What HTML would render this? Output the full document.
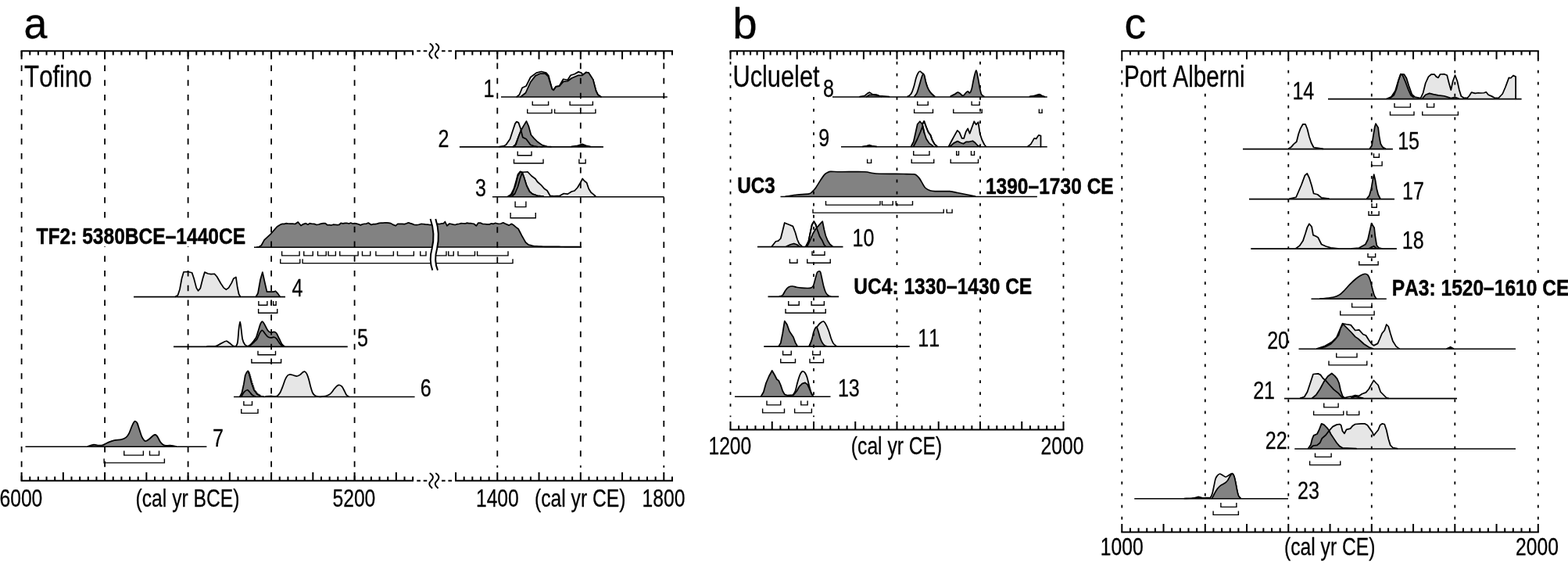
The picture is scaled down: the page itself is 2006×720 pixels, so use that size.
<!DOCTYPE html>
<html lang="en"><head><meta charset="utf-8"><title>Calibrated age models: Tofino, Ucluelet, Port Alberni</title>
<style>html,body{margin:0;padding:0;background:#fff}body{width:2006px;height:720px;overflow:hidden}svg{display:block}text{font-family:"Liberation Sans",Arial,Helvetica,sans-serif;fill:#000;font-kerning:none}</style>
</head><body>
<svg width="2006" height="720" viewBox="0 0 2006 720">
<rect width="2006" height="720" fill="#fff"/>
<g id="distributions">
<path d="M661.25 123.75 L664.38 121.25 L668.12 112.25 L673.12 110 L678.75 98.75 L686.25 93.12 L692.5 91.5 L698.75 93.12 L701.88 96.88 L706.25 113.75 L708.12 115 L711.25 110.62 L715.62 109.75 L720.62 101.25 L726.25 102.25 L730 96.25 L735 94.75 L740 91.88 L743.75 93.12 L745.62 95.62 L750 92.5 L753.12 93.12 L758.75 101.88 L762.5 116.25 L765 121.25 L768.75 123.75L768.75 124L661.25 124Z" fill="#e6e6e6" stroke="none"/>
<path d="M661.25 123.75 L664.38 121.25 L668.12 112.25 L673.12 110 L678.75 98.75 L686.25 93.12 L692.5 91.5 L698.75 93.12 L701.88 96.88 L706.25 113.75 L708.12 115 L711.25 110.62 L715.62 109.75 L720.62 101.25 L726.25 102.25 L730 96.25 L735 94.75 L740 91.88 L743.75 93.12 L745.62 95.62 L750 92.5 L753.12 93.12 L758.75 101.88 L762.5 116.25 L765 121.25 L768.75 123.75" fill="none" stroke="#000" stroke-width="1.75" stroke-linejoin="round" stroke-linecap="round"/>
<path d="M666.25 123.75 L672.5 118.75 L678.75 105 L685 96.88 L691.25 94 L697.5 94 L701.25 97.5 L706.25 113.75 L708.12 115.38 L711.25 111 L715.62 110.25 L720.62 104.38 L726.25 103.75 L731.25 100 L740 96.25 L745 96.25 L750 92.5 L753.12 93.12 L758.75 101.88 L762.5 116.25 L765 121.25 L768.75 123.75L768.75 124L666.25 124Z" fill="#828282" stroke="none"/>
<path d="M666.25 123.75 L672.5 118.75 L678.75 105 L685 96.88 L691.25 94 L697.5 94 L701.25 97.5 L706.25 113.75 L708.12 115.38 L711.25 111 L715.62 110.25 L720.62 104.38 L726.25 103.75 L731.25 100 L740 96.25 L745 96.25 L750 92.5 L753.12 93.12 L758.75 101.88 L762.5 116.25 L765 121.25 L768.75 123.75" fill="none" stroke="#000" stroke-width="1.75" stroke-linejoin="round" stroke-linecap="round"/>
<path d="M638.75 187.62 L645 186.62 L647.5 185 L652.5 177.75 L656.25 166.25 L659 158.12 L660.88 155.62 L663.38 156.88 L666.25 165 L668.75 175.62 L673.12 177.75 L678.75 185.25 L683.12 186.5 L693.75 187.62L693.75 187.88L638.75 187.88Z" fill="#e6e6e6" stroke="none"/>
<path d="M638.75 187.62 L645 186.62 L647.5 185 L652.5 177.75 L656.25 166.25 L659 158.12 L660.88 155.62 L663.38 156.88 L666.25 165 L668.75 175.62 L673.12 177.75 L678.75 185.25 L683.12 186.5 L693.75 187.62" fill="none" stroke="#000" stroke-width="1.75" stroke-linejoin="round" stroke-linecap="round"/>
<path d="M656.25 187.62 L659.38 185 L663.75 173.75 L666.88 166.25 L670 160.62 L673.5 155 L676.25 161.25 L679.38 172.5 L683.12 176.88 L687.5 181.25 L693.75 185.62 L700 187.25 L705 187.62L705 187.88L656.25 187.88Z" fill="#828282" stroke="none"/>
<path d="M656.25 187.62 L659.38 185 L663.75 173.75 L666.88 166.25 L670 160.62 L673.5 155 L676.25 161.25 L679.38 172.5 L683.12 176.88 L687.5 181.25 L693.75 185.62 L700 187.25 L705 187.62" fill="none" stroke="#000" stroke-width="1.75" stroke-linejoin="round" stroke-linecap="round"/>
<path d="M657.5 187.62 L660 185 L663.75 173.75 L666.5 166.5 L668.75 175.62 L673.12 177.75 L678.75 185.25 L683.12 186.75 L687.5 187.62L687.5 187.88L657.5 187.88Z" fill="#828282" stroke="none"/>
<path d="M657.5 187.62 L660 185 L663.75 173.75 L666.5 166.5 L668.75 175.62 L673.12 177.75 L678.75 185.25 L683.12 186.75 L687.5 187.62" fill="none" stroke="#000" stroke-width="1.75" stroke-linejoin="round" stroke-linecap="round"/>
<path d="M731.25 187.38 L738.75 186.25 L745 184.38 L750 186.25 L755 187.38L755 187.88L731.25 187.88Z" fill="#111" stroke="none"/>
<path d="M731.25 187.38 L738.75 186.25 L745 184.38 L750 186.25 L755 187.38" fill="none" stroke="#000" stroke-width="1.75" stroke-linejoin="round" stroke-linecap="round"/>
<path d="M650 251 L653.75 248.75 L657.5 241.25 L660 232.5 L662.5 223.12 L665.62 219.38 L668.12 220.25 L675 219.75 L680 225 L685 228.75 L687.5 232.5 L692.5 236.88 L696.25 241.25 L700 243.75 L703.75 250.25 L708.75 250.75 L716.25 250.25 L721.25 247.5 L726.25 248.12 L731.25 245 L735 244 L738.75 240 L742.5 233.75 L745.25 228.5 L747.5 231.25 L750.62 233.75 L753.12 241.25 L756.25 246.25 L758.75 248.12 L761.88 251L761.88 251.75L650 251.75Z" fill="#e6e6e6" stroke="none"/>
<path d="M650 251 L653.75 248.75 L657.5 241.25 L660 232.5 L662.5 223.12 L665.62 219.38 L668.12 220.25 L675 219.75 L680 225 L685 228.75 L687.5 232.5 L692.5 236.88 L696.25 241.25 L700 243.75 L703.75 250.25 L708.75 250.75 L716.25 250.25 L721.25 247.5 L726.25 248.12 L731.25 245 L735 244 L738.75 240 L742.5 233.75 L745.25 228.5 L747.5 231.25 L750.62 233.75 L753.12 241.25 L756.25 246.25 L758.75 248.12 L761.88 251" fill="none" stroke="#000" stroke-width="1.75" stroke-linejoin="round" stroke-linecap="round"/>
<path d="M651.88 251 L655.62 247.5 L659.38 237.5 L662.5 225 L665.62 219.75 L668.12 220.62 L670.62 227.5 L673.75 237.5 L677.5 245 L681.25 248.12 L687.5 250.25 L695 251L695 251.75L651.88 251.75Z" fill="#828282" stroke="none"/>
<path d="M651.88 251 L655.62 247.5 L659.38 237.5 L662.5 225 L665.62 219.75 L668.12 220.62 L670.62 227.5 L673.75 237.5 L677.5 245 L681.25 248.12 L687.5 250.25 L695 251" fill="none" stroke="#000" stroke-width="1.75" stroke-linejoin="round" stroke-linecap="round"/>
<path d="M655 251 L658.75 247.5 L662.5 238.75 L665.62 227.5 L668.12 220.62 L670.62 227.5 L673.75 237.5 L677.5 245 L681.25 248.12 L687.5 250.25 L695 251L695 251.75L655 251.75Z" fill="#828282" stroke="none"/>
<path d="M655 251 L658.75 247.5 L662.5 238.75 L665.62 227.5 L668.12 220.62 L670.62 227.5 L673.75 237.5 L677.5 245 L681.25 248.12 L687.5 250.25 L695 251" fill="none" stroke="#000" stroke-width="1.75" stroke-linejoin="round" stroke-linecap="round"/>
<path d="M328.75 316 L331.25 315.75 L334.38 313.75 L338.12 306.88 L340.83 304.38 L343.54 301.88 L346.25 299.38 L348.96 296.25 L351.67 293.12 L354.38 290 L356.67 288.56 L358.96 287.12 L361.25 286.25 L363.75 286.33 L366.25 285.61 L368.75 286 L371.67 286.21 L374.58 286.19 L377.5 286.5 L381.25 284 L385 288.5 L388.12 286.58 L391.25 285.62 L393.75 287.25 L396.25 285.62 L399.17 286.26 L402.08 286.37 L405 287.5 L407.81 286.96 L410.62 286.09 L413.44 285.64 L416.25 285.62 L418.75 287.75 L421.25 287.63 L423.75 288.03 L426.25 287.21 L428.75 287.28 L431.25 287.68 L433.75 287.5 L436.25 285.25 L438.75 285.8 L441.25 285.44 L443.75 285.3 L446.25 285.99 L448.75 285.02 L451.25 285.97 L453.75 285.62 L456.25 286.14 L458.75 286.73 L461.25 287.88 L463.75 286.74 L466.25 286.23 L468.75 286.07 L471.25 285 L475 287.5 L477.5 286.65 L480 286.59 L482.5 286.15 L485 285.36 L487.5 285 L490 285.18 L492.5 284.77 L495 284.89 L497.5 285.18 L500 285.62 L503.12 287.39 L506.25 288.75 L508.75 286.25 L511.67 286.3 L514.58 286.3 L517.5 286.62 L520 285.78 L522.5 284.75 L525 285.62 L527.5 286.36 L530 287.5 L532.81 287.57 L535.62 287.22 L538.44 286.47 L541.25 286.5 L544.17 286.92 L547.08 287.19 L550 287.5 L553.12 287.79 L556.25 287.25L556.25 316.25L328.75 316.25Z" fill="#828282" stroke="none"/>
<path d="M328.75 316 L331.25 315.75 L334.38 313.75 L338.12 306.88 L340.83 304.38 L343.54 301.88 L346.25 299.38 L348.96 296.25 L351.67 293.12 L354.38 290 L356.67 288.56 L358.96 287.12 L361.25 286.25 L363.75 286.33 L366.25 285.61 L368.75 286 L371.67 286.21 L374.58 286.19 L377.5 286.5 L381.25 284 L385 288.5 L388.12 286.58 L391.25 285.62 L393.75 287.25 L396.25 285.62 L399.17 286.26 L402.08 286.37 L405 287.5 L407.81 286.96 L410.62 286.09 L413.44 285.64 L416.25 285.62 L418.75 287.75 L421.25 287.63 L423.75 288.03 L426.25 287.21 L428.75 287.28 L431.25 287.68 L433.75 287.5 L436.25 285.25 L438.75 285.8 L441.25 285.44 L443.75 285.3 L446.25 285.99 L448.75 285.02 L451.25 285.97 L453.75 285.62 L456.25 286.14 L458.75 286.73 L461.25 287.88 L463.75 286.74 L466.25 286.23 L468.75 286.07 L471.25 285 L475 287.5 L477.5 286.65 L480 286.59 L482.5 286.15 L485 285.36 L487.5 285 L490 285.18 L492.5 284.77 L495 284.89 L497.5 285.18 L500 285.62 L503.12 287.39 L506.25 288.75 L508.75 286.25 L511.67 286.3 L514.58 286.3 L517.5 286.62 L520 285.78 L522.5 284.75 L525 285.62 L527.5 286.36 L530 287.5 L532.81 287.57 L535.62 287.22 L538.44 286.47 L541.25 286.5 L544.17 286.92 L547.08 287.19 L550 287.5 L553.12 287.79 L556.25 287.25" fill="none" stroke="#000" stroke-width="1.7" stroke-linejoin="round" stroke-linecap="round"/>
<path d="M551.25 287.5 L554.17 287.03 L557.08 286.73 L560 286.25 L562.5 286.51 L565 285.8 L567.5 285.62 L569.38 283.5 L571.88 288.75 L575 286 L577.5 286.51 L580 287.1 L582.5 287.5 L585 286.53 L587.5 286.26 L590 285.62 L592.5 285.77 L595 285.95 L597.5 285.18 L600 285.62 L603.12 285.72 L606.25 286.25 L609.38 288.75 L611.88 285 L614.58 285.05 L617.29 286.34 L620 286.5 L623.12 286.9 L626.25 286.88 L628.75 285.83 L631.25 286.32 L633.75 285.25 L637.5 286.25 L640.62 286.01 L643.75 284.75 L646.25 286.04 L648.75 287.13 L651.25 288.12 L654.38 286.25 L657.29 288.04 L660.21 290.58 L663.12 292.75 L665.31 297 L667.5 301.25 L670 305.62 L672.5 310 L676.25 313.12 L678.75 313.67 L681.25 314.21 L683.75 314.75 L686.56 314.88 L689.38 315 L692.19 315.12 L695 315.25 L697.53 315.28 L700.07 315.3 L702.6 315.33 L705.13 315.36 L707.66 315.38 L710.2 315.41 L712.73 315.43 L715.26 315.46 L717.8 315.49 L720.33 315.51 L722.86 315.54 L725.39 315.57 L727.93 315.59 L730.46 315.62 L732.99 315.64 L735.53 315.67 L738.06 315.7 L740.59 315.72 L743.12 315.75L743.12 316L551.25 316Z" fill="#828282" stroke="none"/>
<path d="M551.25 287.5 L554.17 287.03 L557.08 286.73 L560 286.25 L562.5 286.51 L565 285.8 L567.5 285.62 L569.38 283.5 L571.88 288.75 L575 286 L577.5 286.51 L580 287.1 L582.5 287.5 L585 286.53 L587.5 286.26 L590 285.62 L592.5 285.77 L595 285.95 L597.5 285.18 L600 285.62 L603.12 285.72 L606.25 286.25 L609.38 288.75 L611.88 285 L614.58 285.05 L617.29 286.34 L620 286.5 L623.12 286.9 L626.25 286.88 L628.75 285.83 L631.25 286.32 L633.75 285.25 L637.5 286.25 L640.62 286.01 L643.75 284.75 L646.25 286.04 L648.75 287.13 L651.25 288.12 L654.38 286.25 L657.29 288.04 L660.21 290.58 L663.12 292.75 L665.31 297 L667.5 301.25 L670 305.62 L672.5 310 L676.25 313.12 L678.75 313.67 L681.25 314.21 L683.75 314.75 L686.56 314.88 L689.38 315 L692.19 315.12 L695 315.25 L697.53 315.28 L700.07 315.3 L702.6 315.33 L705.13 315.36 L707.66 315.38 L710.2 315.41 L712.73 315.43 L715.26 315.46 L717.8 315.49 L720.33 315.51 L722.86 315.54 L725.39 315.57 L727.93 315.59 L730.46 315.62 L732.99 315.64 L735.53 315.67 L738.06 315.7 L740.59 315.72 L743.12 315.75" fill="none" stroke="#000" stroke-width="1.7" stroke-linejoin="round" stroke-linecap="round"/>
<path d="M224.38 379.38 L227.5 377.5 L230 370 L232.5 356.25 L235 347.75 L240 347.5 L245.62 348.75 L248.12 356.25 L251.25 368.12 L253.5 371.88 L256.25 368.75 L259.38 356.25 L261.88 348.12 L266.25 350 L270 350.62 L274.38 350.25 L277.5 353.75 L282.5 362.5 L286.25 368.12 L289.38 370.25 L292.5 368.12 L296.25 361.88 L298.75 356.25 L301.88 354.38 L303.75 367.5 L305.62 376.25 L307.5 379.38L307.5 379.62L224.38 379.62Z" fill="#e6e6e6" stroke="none"/>
<path d="M224.38 379.38 L227.5 377.5 L230 370 L232.5 356.25 L235 347.75 L240 347.5 L245.62 348.75 L248.12 356.25 L251.25 368.12 L253.5 371.88 L256.25 368.75 L259.38 356.25 L261.88 348.12 L266.25 350 L270 350.62 L274.38 350.25 L277.5 353.75 L282.5 362.5 L286.25 368.12 L289.38 370.25 L292.5 368.12 L296.25 361.88 L298.75 356.25 L301.88 354.38 L303.75 367.5 L305.62 376.25 L307.5 379.38" fill="none" stroke="#000" stroke-width="1.75" stroke-linejoin="round" stroke-linecap="round"/>
<path d="M327.5 379.38 L330 375 L333.12 357.5 L335.88 348.12 L338.75 361.25 L341.5 373.12 L350 373.12 L352.5 372.25 L355.62 375.62 L358.12 379.38L358.12 379.62L327.5 379.62Z" fill="#828282" stroke="none"/>
<path d="M327.5 379.38 L330 375 L333.12 357.5 L335.88 348.12 L338.75 361.25 L341.5 373.12 L350 373.12 L352.5 372.25 L355.62 375.62 L358.12 379.38" fill="none" stroke="#000" stroke-width="1.75" stroke-linejoin="round" stroke-linecap="round"/>
<path d="M265 443C266.59 442.93 273.77 443.01 276.25 442.5C278.73 441.99 280.64 440.26 282.5 439.38C284.36 438.49 287.78 436.34 289.38 436.25C290.97 436.16 292.51 437.9 293.75 438.75C294.99 439.6 296.97 441.68 298.12 442.25C299.28 442.82 301.04 443.42 301.88 442.75C302.71 442.08 303.47 440.72 304 437.5C304.53 434.28 305.18 423.72 305.62 420C306.07 416.28 306.72 411.25 307.12 411.25C307.53 411.25 308.06 416.81 308.5 420C308.94 423.19 309.59 430.83 310.25 433.75C310.91 436.67 312.27 439.39 313.12 440.62C313.98 441.86 315.36 442.32 316.25 442.5C317.14 442.68 318.31 442.58 319.38 441.88C320.44 441.17 322.6 438.83 323.75 437.5C324.9 436.17 326.97 433.21 327.5 432.5L327.5 443.38L265 443.38Z" fill="#e6e6e6" stroke="none"/>
<path d="M265 443C266.59 442.93 273.77 443.01 276.25 442.5C278.73 441.99 280.64 440.26 282.5 439.38C284.36 438.49 287.78 436.34 289.38 436.25C290.97 436.16 292.51 437.9 293.75 438.75C294.99 439.6 296.97 441.68 298.12 442.25C299.28 442.82 301.04 443.42 301.88 442.75C302.71 442.08 303.47 440.72 304 437.5C304.53 434.28 305.18 423.72 305.62 420C306.07 416.28 306.72 411.25 307.12 411.25C307.53 411.25 308.06 416.81 308.5 420C308.94 423.19 309.59 430.83 310.25 433.75C310.91 436.67 312.27 439.39 313.12 440.62C313.98 441.86 315.36 442.32 316.25 442.5C317.14 442.68 318.31 442.58 319.38 441.88C320.44 441.17 322.6 438.83 323.75 437.5C324.9 436.17 326.97 433.21 327.5 432.5" fill="none" stroke="#000" stroke-width="1.75" stroke-linejoin="round" stroke-linecap="round"/>
<path d="M316.88 442.88C317.14 442.79 317.95 442.83 318.75 442.25C319.55 441.67 321.26 440.22 322.5 438.75C323.74 437.28 326.44 433.91 327.5 431.88C328.56 429.84 329.2 426.85 330 424.38C330.8 421.9 332.33 416.27 333.12 414.38C333.92 412.48 334.92 411 335.62 411C336.33 411 337.15 412.75 338.12 414.38C339.1 416 341.35 420.96 342.5 422.5C343.65 424.04 345.1 424.98 346.25 425.25C347.4 425.52 349.56 424.23 350.62 424.38C351.69 424.52 352.78 424.92 353.75 426.25C354.72 427.58 356.53 431.8 357.5 433.75C358.47 435.7 359.74 438.71 360.62 440C361.51 441.29 363.31 442.47 363.75 442.88L363.75 443.38L316.88 443.38Z" fill="#828282" stroke="none"/>
<path d="M316.88 442.88C317.14 442.79 317.95 442.83 318.75 442.25C319.55 441.67 321.26 440.22 322.5 438.75C323.74 437.28 326.44 433.91 327.5 431.88C328.56 429.84 329.2 426.85 330 424.38C330.8 421.9 332.33 416.27 333.12 414.38C333.92 412.48 334.92 411 335.62 411C336.33 411 337.15 412.75 338.12 414.38C339.1 416 341.35 420.96 342.5 422.5C343.65 424.04 345.1 424.98 346.25 425.25C347.4 425.52 349.56 424.23 350.62 424.38C351.69 424.52 352.78 424.92 353.75 426.25C354.72 427.58 356.53 431.8 357.5 433.75C358.47 435.7 359.74 438.71 360.62 440C361.51 441.29 363.31 442.47 363.75 442.88" fill="none" stroke="#000" stroke-width="1.75" stroke-linejoin="round" stroke-linecap="round"/>
<path d="M318.12 442.88C318.39 442.79 319.03 443.01 320 442.25C320.97 441.49 323.76 438.7 325 437.5C326.24 436.3 327.69 435.43 328.75 433.75C329.81 432.07 331.53 427.22 332.5 425.62C333.47 424.03 334.74 422.41 335.62 422.5C336.51 422.59 337.78 425.1 338.75 426.25C339.72 427.4 341.44 429.83 342.5 430.62C343.56 431.42 345.1 431.79 346.25 431.88C347.4 431.96 349.56 431.07 350.62 431.25C351.69 431.43 352.78 432.06 353.75 433.12C354.72 434.19 356.44 437.37 357.5 438.75C358.56 440.13 360.72 442.29 361.25 442.88L361.25 443.38L318.12 443.38Z" fill="#828282" stroke="none"/>
<path d="M318.12 442.88C318.39 442.79 319.03 443.01 320 442.25C320.97 441.49 323.76 438.7 325 437.5C326.24 436.3 327.69 435.43 328.75 433.75C329.81 432.07 331.53 427.22 332.5 425.62C333.47 424.03 334.74 422.41 335.62 422.5C336.51 422.59 337.78 425.1 338.75 426.25C339.72 427.4 341.44 429.83 342.5 430.62C343.56 431.42 345.1 431.79 346.25 431.88C347.4 431.96 349.56 431.07 350.62 431.25C351.69 431.43 352.78 432.06 353.75 433.12C354.72 434.19 356.44 437.37 357.5 438.75C358.56 440.13 360.72 442.29 361.25 442.88" fill="none" stroke="#000" stroke-width="1.75" stroke-linejoin="round" stroke-linecap="round"/>
<path d="M340 507C340.89 506.93 344.3 506.52 346.25 506.5C348.2 506.48 352.07 507.44 353.75 506.88C355.43 506.31 356.97 504.36 358.12 502.5C359.28 500.64 360.9 496.23 361.88 493.75C362.85 491.27 364.11 486.95 365 485C365.89 483.05 367.24 480.89 368.12 480C369.01 479.11 370.19 478.75 371.25 478.75C372.31 478.75 374.39 479.68 375.62 480C376.86 480.32 378.85 481.09 380 481C381.15 480.91 382.69 480.08 383.75 479.38C384.81 478.67 386.61 476.58 387.5 476C388.39 475.42 389.29 474.95 390 475.25C390.71 475.55 391.79 476.74 392.5 478.12C393.21 479.51 394.29 482.61 395 485C395.71 487.39 396.79 492.52 397.5 495C398.21 497.48 399.2 500.94 400 502.5C400.8 504.06 402.06 505.33 403.12 506C404.19 506.67 405.82 507.13 407.5 507.25C409.18 507.37 413.23 507.16 415 506.88C416.77 506.59 418.76 505.87 420 505.25C421.24 504.63 422.69 503.6 423.75 502.5C424.81 501.4 426.44 498.77 427.5 497.5C428.56 496.23 430.28 494.21 431.25 493.5C432.22 492.79 433.49 492.38 434.38 492.5C435.26 492.62 436.7 493.49 437.5 494.38C438.3 495.26 439.2 497.24 440 498.75C440.8 500.26 442.24 503.8 443.12 505C444.01 506.2 445.81 506.93 446.25 507.25L446.25 507.5L340 507.5Z" fill="#e6e6e6" stroke="none"/>
<path d="M340 507C340.89 506.93 344.3 506.52 346.25 506.5C348.2 506.48 352.07 507.44 353.75 506.88C355.43 506.31 356.97 504.36 358.12 502.5C359.28 500.64 360.9 496.23 361.88 493.75C362.85 491.27 364.11 486.95 365 485C365.89 483.05 367.24 480.89 368.12 480C369.01 479.11 370.19 478.75 371.25 478.75C372.31 478.75 374.39 479.68 375.62 480C376.86 480.32 378.85 481.09 380 481C381.15 480.91 382.69 480.08 383.75 479.38C384.81 478.67 386.61 476.58 387.5 476C388.39 475.42 389.29 474.95 390 475.25C390.71 475.55 391.79 476.74 392.5 478.12C393.21 479.51 394.29 482.61 395 485C395.71 487.39 396.79 492.52 397.5 495C398.21 497.48 399.2 500.94 400 502.5C400.8 504.06 402.06 505.33 403.12 506C404.19 506.67 405.82 507.13 407.5 507.25C409.18 507.37 413.23 507.16 415 506.88C416.77 506.59 418.76 505.87 420 505.25C421.24 504.63 422.69 503.6 423.75 502.5C424.81 501.4 426.44 498.77 427.5 497.5C428.56 496.23 430.28 494.21 431.25 493.5C432.22 492.79 433.49 492.38 434.38 492.5C435.26 492.62 436.7 493.49 437.5 494.38C438.3 495.26 439.2 497.24 440 498.75C440.8 500.26 442.24 503.8 443.12 505C444.01 506.2 445.81 506.93 446.25 507.25" fill="none" stroke="#000" stroke-width="1.75" stroke-linejoin="round" stroke-linecap="round"/>
<path d="M306.88 507.25 L309.38 502.5 L311.88 491.25 L313.75 480 L315.62 476 L317.25 474.38 L318.5 476.88 L319.38 480 L321.88 490 L325 498.75 L328.75 503.75 L333.12 506.5 L337.5 507.25L337.5 507.5L306.88 507.5Z" fill="#828282" stroke="none"/>
<path d="M306.88 507.25 L309.38 502.5 L311.88 491.25 L313.75 480 L315.62 476 L317.25 474.38 L318.5 476.88 L319.38 480 L321.88 490 L325 498.75 L328.75 503.75 L333.12 506.5 L337.5 507.25" fill="none" stroke="#000" stroke-width="1.75" stroke-linejoin="round" stroke-linecap="round"/>
<path d="M308.75 507.25C309.19 506.49 310.81 503.08 311.88 501.88C312.94 500.67 315.19 498.84 316.25 498.75C317.31 498.66 318.49 500.36 319.38 501.25C320.26 502.14 321.53 504.19 322.5 505C323.47 505.81 325.72 506.72 326.25 507L326.25 507.5L308.75 507.5Z" fill="#828282" stroke="none"/>
<path d="M308.75 507.25C309.19 506.49 310.81 503.08 311.88 501.88C312.94 500.67 315.19 498.84 316.25 498.75C317.31 498.66 318.49 500.36 319.38 501.25C320.26 502.14 321.53 504.19 322.5 505C323.47 505.81 325.72 506.72 326.25 507" fill="none" stroke="#000" stroke-width="1.75" stroke-linejoin="round" stroke-linecap="round"/>
<path d="M317.75 475.25 L319.75 480.62 L322.25 490.00 L325.25 498.50 L329.00 503.50 L333.12 506.25" fill="none" stroke="#000" stroke-width="2.6" stroke-dasharray="0.9 0.7"/>
<path d="M112.5 570.75C113.56 570.47 118.23 568.91 120 568.75C121.77 568.59 123.41 569.54 125 569.62C126.59 569.71 129.3 569.94 131.25 569.38C133.2 568.81 136.62 566.51 138.75 565.62C140.88 564.74 143.95 563.62 146.25 563.12C148.55 562.63 152.88 562.66 155 562.12C157.12 561.59 159.83 560.47 161.25 559.38C162.67 558.28 163.94 556.41 165 554.38C166.06 552.34 167.86 547.04 168.75 545C169.64 542.96 170.63 540.89 171.25 540C171.87 539.11 172.51 538.57 173.12 538.75C173.74 538.93 174.92 539.83 175.62 541.25C176.33 542.67 177.33 546.36 178.12 548.75C178.92 551.14 180.36 556.09 181.25 558.12C182.14 560.16 183.58 562.29 184.38 563.12C185.17 563.96 185.9 564.27 186.88 564C187.85 563.73 190.01 562.21 191.25 561.25C192.49 560.29 194.56 557.99 195.62 557.25C196.69 556.51 197.95 555.88 198.75 556C199.55 556.12 200.36 556.85 201.25 558.12C202.14 559.4 203.94 563.49 205 565C206.06 566.51 207.69 568.04 208.75 568.75C209.81 569.46 211.26 569.86 212.5 570C213.74 570.14 215.73 569.63 217.5 569.75C219.27 569.87 223.94 570.72 225 570.88L225 571.25L112.5 571.25Z" fill="#828282" stroke="none"/>
<path d="M112.5 570.75C113.56 570.47 118.23 568.91 120 568.75C121.77 568.59 123.41 569.54 125 569.62C126.59 569.71 129.3 569.94 131.25 569.38C133.2 568.81 136.62 566.51 138.75 565.62C140.88 564.74 143.95 563.62 146.25 563.12C148.55 562.63 152.88 562.66 155 562.12C157.12 561.59 159.83 560.47 161.25 559.38C162.67 558.28 163.94 556.41 165 554.38C166.06 552.34 167.86 547.04 168.75 545C169.64 542.96 170.63 540.89 171.25 540C171.87 539.11 172.51 538.57 173.12 538.75C173.74 538.93 174.92 539.83 175.62 541.25C176.33 542.67 177.33 546.36 178.12 548.75C178.92 551.14 180.36 556.09 181.25 558.12C182.14 560.16 183.58 562.29 184.38 563.12C185.17 563.96 185.9 564.27 186.88 564C187.85 563.73 190.01 562.21 191.25 561.25C192.49 560.29 194.56 557.99 195.62 557.25C196.69 556.51 197.95 555.88 198.75 556C199.55 556.12 200.36 556.85 201.25 558.12C202.14 559.4 203.94 563.49 205 565C206.06 566.51 207.69 568.04 208.75 568.75C209.81 569.46 211.26 569.86 212.5 570C213.74 570.14 215.73 569.63 217.5 569.75C219.27 569.87 223.94 570.72 225 570.88" fill="none" stroke="#000" stroke-width="1.8" stroke-linejoin="round" stroke-linecap="round"/>
<path d="M1100 123.5 L1106.25 122.5 L1110 119.38 L1112.5 118.12 L1116.25 120.62 L1121.25 121 L1125 122.5 L1137.5 123.5L1137.5 124L1100 124Z" fill="#e6e6e6" stroke="none"/>
<path d="M1100 123.5 L1106.25 122.5 L1110 119.38 L1112.5 118.12 L1116.25 120.62 L1121.25 121 L1125 122.5 L1137.5 123.5" fill="none" stroke="#000" stroke-width="1.75" stroke-linejoin="round" stroke-linecap="round"/>
<path d="M1108.75 123.5 L1112.5 121.25 L1117.5 121.5 L1122.5 122.25 L1127.5 123.5L1127.5 124L1108.75 124Z" fill="#828282" stroke="none"/>
<path d="M1108.75 123.5 L1112.5 121.25 L1117.5 121.5 L1122.5 122.25 L1127.5 123.5" fill="none" stroke="#000" stroke-width="1.75" stroke-linejoin="round" stroke-linecap="round"/>
<path d="M1161.25 123.25C1161.52 123.14 1162.42 123.14 1163.12 122.5C1163.83 121.86 1165.36 120.52 1166.25 118.75C1167.14 116.98 1168.58 112.66 1169.38 110C1170.17 107.34 1171.17 102.3 1171.88 100C1172.58 97.7 1173.67 94.99 1174.38 93.75C1175.08 92.51 1176.17 91.34 1176.88 91.25C1177.58 91.16 1178.67 92.51 1179.38 93.12C1180.08 93.74 1181.17 93.94 1181.88 95.62C1182.58 97.31 1183.67 102.61 1184.38 105C1185.08 107.39 1186.17 110.82 1186.88 112.5C1187.58 114.18 1188.58 115.72 1189.38 116.88C1190.17 118.03 1191.61 119.72 1192.5 120.62C1193.39 121.53 1195.18 122.88 1195.62 123.25L1195.62 123.75L1161.25 123.75Z" fill="#e6e6e6" stroke="none"/>
<path d="M1161.25 123.25C1161.52 123.14 1162.42 123.14 1163.12 122.5C1163.83 121.86 1165.36 120.52 1166.25 118.75C1167.14 116.98 1168.58 112.66 1169.38 110C1170.17 107.34 1171.17 102.3 1171.88 100C1172.58 97.7 1173.67 94.99 1174.38 93.75C1175.08 92.51 1176.17 91.34 1176.88 91.25C1177.58 91.16 1178.67 92.51 1179.38 93.12C1180.08 93.74 1181.17 93.94 1181.88 95.62C1182.58 97.31 1183.67 102.61 1184.38 105C1185.08 107.39 1186.17 110.82 1186.88 112.5C1187.58 114.18 1188.58 115.72 1189.38 116.88C1190.17 118.03 1191.61 119.72 1192.5 120.62C1193.39 121.53 1195.18 122.88 1195.62 123.25" fill="none" stroke="#000" stroke-width="1.75" stroke-linejoin="round" stroke-linecap="round"/>
<path d="M1170 123.25C1170.44 122.61 1172.24 120.8 1173.12 118.75C1174.01 116.7 1175.45 111.41 1176.25 108.75C1177.05 106.09 1178.13 101.95 1178.75 100C1179.37 98.05 1180.09 95.53 1180.62 95C1181.16 94.47 1181.97 94.83 1182.5 96.25C1183.03 97.67 1183.76 102.7 1184.38 105C1184.99 107.3 1186.17 110.82 1186.88 112.5C1187.58 114.18 1188.58 115.72 1189.38 116.88C1190.17 118.03 1191.61 119.72 1192.5 120.62C1193.39 121.53 1195.18 122.88 1195.62 123.25L1195.62 123.75L1170 123.75Z" fill="#828282" stroke="none"/>
<path d="M1170 123.25C1170.44 122.61 1172.24 120.8 1173.12 118.75C1174.01 116.7 1175.45 111.41 1176.25 108.75C1177.05 106.09 1178.13 101.95 1178.75 100C1179.37 98.05 1180.09 95.53 1180.62 95C1181.16 94.47 1181.97 94.83 1182.5 96.25C1183.03 97.67 1183.76 102.7 1184.38 105C1184.99 107.3 1186.17 110.82 1186.88 112.5C1187.58 114.18 1188.58 115.72 1189.38 116.88C1190.17 118.03 1191.61 119.72 1192.5 120.62C1193.39 121.53 1195.18 122.88 1195.62 123.25" fill="none" stroke="#000" stroke-width="1.75" stroke-linejoin="round" stroke-linecap="round"/>
<path d="M1216.25 123C1216.96 122.66 1220.01 121.32 1221.25 120.62C1222.49 119.93 1224.03 118.3 1225 118.12C1225.97 117.95 1227.33 118.84 1228.12 119.38C1228.92 119.91 1229.92 121.52 1230.62 121.88C1231.33 122.23 1232.42 122.32 1233.12 121.88C1233.83 121.43 1234.92 119.46 1235.62 118.75C1236.33 118.04 1237.42 116.88 1238.12 116.88C1238.83 116.88 1239.92 119.19 1240.62 118.75C1241.33 118.31 1242.42 116.23 1243.12 113.75C1243.83 111.27 1244.83 104.61 1245.62 101.25C1246.42 97.89 1247.95 90.18 1248.75 90C1249.55 89.82 1250.54 96.64 1251.25 100C1251.96 103.36 1253.13 110.83 1253.75 113.75C1254.37 116.67 1254.92 119.28 1255.62 120.62C1256.33 121.97 1258.31 122.88 1258.75 123.25L1258.75 123.75L1216.25 123.75Z" fill="#828282" stroke="none"/>
<path d="M1216.25 123C1216.96 122.66 1220.01 121.32 1221.25 120.62C1222.49 119.93 1224.03 118.3 1225 118.12C1225.97 117.95 1227.33 118.84 1228.12 119.38C1228.92 119.91 1229.92 121.52 1230.62 121.88C1231.33 122.23 1232.42 122.32 1233.12 121.88C1233.83 121.43 1234.92 119.46 1235.62 118.75C1236.33 118.04 1237.42 116.88 1238.12 116.88C1238.83 116.88 1239.92 119.19 1240.62 118.75C1241.33 118.31 1242.42 116.23 1243.12 113.75C1243.83 111.27 1244.83 104.61 1245.62 101.25C1246.42 97.89 1247.95 90.18 1248.75 90C1249.55 89.82 1250.54 96.64 1251.25 100C1251.96 103.36 1253.13 110.83 1253.75 113.75C1254.37 116.67 1254.92 119.28 1255.62 120.62C1256.33 121.97 1258.31 122.88 1258.75 123.25" fill="none" stroke="#000" stroke-width="1.75" stroke-linejoin="round" stroke-linecap="round"/>
<path d="M1317.5 123.38C1318.39 123.22 1321.98 122.62 1323.75 122.25C1325.52 121.88 1328.67 120.71 1330 120.75C1331.33 120.79 1332.24 122.11 1333.12 122.5C1334.01 122.89 1335.81 123.36 1336.25 123.5L1336.25 123.75L1317.5 123.75Z" fill="#111" stroke="none"/>
<path d="M1317.5 123.38C1318.39 123.22 1321.98 122.62 1323.75 122.25C1325.52 121.88 1328.67 120.71 1330 120.75C1331.33 120.79 1332.24 122.11 1333.12 122.5C1334.01 122.89 1335.81 123.36 1336.25 123.5" fill="none" stroke="#000" stroke-width="1.75" stroke-linejoin="round" stroke-linecap="round"/>
<path d="M1103.75 187.38 L1108.75 186.5 L1112.12 185.5 L1115.62 186.62 L1121.25 187.38L1121.25 187.75L1103.75 187.75Z" fill="#111" stroke="none"/>
<path d="M1103.75 187.38 L1108.75 186.5 L1112.12 185.5 L1115.62 186.62 L1121.25 187.38" fill="none" stroke="#000" stroke-width="1.75" stroke-linejoin="round" stroke-linecap="round"/>
<path d="M1166.25 187.25 L1170 181.25 L1175 171.25 L1180 158.75 L1182.25 155 L1185 162.5 L1187.5 168.75 L1190.62 173.12 L1192.5 178.75 L1195.62 184.38 L1198.75 187.25L1198.75 187.75L1166.25 187.75Z" fill="#e6e6e6" stroke="none"/>
<path d="M1166.25 187.25 L1170 181.25 L1175 171.25 L1180 158.75 L1182.25 155 L1185 162.5 L1187.5 168.75 L1190.62 173.12 L1192.5 178.75 L1195.62 184.38 L1198.75 187.25" fill="none" stroke="#000" stroke-width="1.75" stroke-linejoin="round" stroke-linecap="round"/>
<path d="M1165.62 187.25 L1168.75 181.25 L1171.25 170 L1173.75 158.75 L1176.88 155.25 L1180 158.75 L1182.5 170 L1185 177.5 L1188.75 183.12 L1193.75 186.88L1193.75 187.75L1165.62 187.75Z" fill="#828282" stroke="none"/>
<path d="M1165.62 187.25 L1168.75 181.25 L1171.25 170 L1173.75 158.75 L1176.88 155.25 L1180 158.75 L1182.5 170 L1185 177.5 L1188.75 183.12 L1193.75 186.88" fill="none" stroke="#000" stroke-width="1.75" stroke-linejoin="round" stroke-linecap="round"/>
<path d="M1180 158.75 L1182.25 155 L1185 162.5 L1187.5 168.75 L1190.62 173.12 L1192.5 178.75 L1195.62 184.38 L1198.75 187.25" fill="none" stroke="#000" stroke-width="1.75" stroke-linejoin="round" stroke-linecap="round"/>
<path d="M1168.75 187.25 L1173.75 177.5 L1177.5 168.75 L1180.38 161.25 L1182.5 170" fill="none" stroke="#000" stroke-width="1.75" stroke-linejoin="round" stroke-linecap="round"/>
<path d="M1213.75 187.25 L1217.5 180 L1221.25 173.12 L1224.75 166.88 L1227.5 169.38 L1230.62 176.88 L1233.12 176.88 L1235.62 168.75 L1238.12 164.38 L1240.62 170.62 L1243.12 163.75 L1246.25 155.25 L1248.75 159.38 L1251.5 156.25 L1253.75 171.25 L1256.25 178.75 L1259.38 185 L1261.25 187.25L1261.25 187.75L1213.75 187.75Z" fill="#e6e6e6" stroke="none"/>
<path d="M1213.75 187.25 L1217.5 180 L1221.25 173.12 L1224.75 166.88 L1227.5 169.38 L1230.62 176.88 L1233.12 176.88 L1235.62 168.75 L1238.12 164.38 L1240.62 170.62 L1243.12 163.75 L1246.25 155.25 L1248.75 159.38 L1251.5 156.25 L1253.75 171.25 L1256.25 178.75 L1259.38 185 L1261.25 187.25" fill="none" stroke="#000" stroke-width="1.75" stroke-linejoin="round" stroke-linecap="round"/>
<path d="M1215.62 187.25 L1220 183.12 L1225 180.62 L1228.75 182.5 L1232.5 183.75 L1236.25 181.25 L1240 181.25 L1244.38 180.25 L1247.5 182.5 L1250.62 186 L1253.12 187.25L1253.12 187.75L1215.62 187.75Z" fill="#828282" stroke="none"/>
<path d="M1215.62 187.25 L1220 183.12 L1225 180.62 L1228.75 182.5 L1232.5 183.75 L1236.25 181.25 L1240 181.25 L1244.38 180.25 L1247.5 182.5 L1250.62 186 L1253.12 187.25" fill="none" stroke="#000" stroke-width="1.75" stroke-linejoin="round" stroke-linecap="round"/>
<path d="M1315 187.25 L1318.75 184.38 L1323.12 176.88 L1325.62 177.5 L1328.75 172.88 L1331.5 173.5 L1331.5 187.5L1331.5 187.75L1315 187.75Z" fill="#e6e6e6" stroke="none"/>
<path d="M1315 187.25 L1318.75 184.38 L1323.12 176.88 L1325.62 177.5 L1328.75 172.88 L1331.5 173.5 L1331.5 187.5" fill="none" stroke="#000" stroke-width="1.75" stroke-linejoin="round" stroke-linecap="round"/>
<path d="M1005 251.25C1005.71 251.16 1007.88 250.94 1010 250.62C1012.12 250.31 1016.46 249.39 1020 249C1023.54 248.61 1032.26 248.44 1035 247.88C1037.74 247.31 1038.14 246.12 1039.38 245C1040.61 243.88 1042.24 242.12 1043.75 240C1045.26 237.88 1048.41 232.39 1050 230C1051.59 227.61 1053.76 224.45 1055 223.12C1056.24 221.8 1057.69 221.16 1058.75 220.62C1059.81 220.09 1060.2 219.5 1062.5 219.38C1064.8 219.25 1068.8 219.7 1075 219.75C1081.2 219.8 1100.58 219.54 1106.25 219.75C1111.92 219.96 1112.34 220.9 1115 221.25C1117.66 221.6 1119.16 222.07 1125 222.25C1130.84 222.43 1150.05 222.43 1156.25 222.5C1162.45 222.57 1166.54 222.57 1168.75 222.75C1170.96 222.93 1170.81 222.99 1171.88 223.75C1172.94 224.51 1175.1 226.62 1176.25 228.12C1177.4 229.63 1178.94 232.66 1180 234.38C1181.06 236.09 1182.33 238.92 1183.75 240.25C1185.17 241.58 1188.23 243.13 1190 243.75C1191.77 244.37 1192.71 244.5 1196.25 244.62C1199.79 244.75 1210.93 244.36 1215 244.62C1219.07 244.89 1221.81 245.88 1225 246.5C1228.19 247.12 1234.31 248.36 1237.5 249C1240.69 249.64 1246.08 250.72 1247.5 251L1247.5 251.5L1005 251.5Z" fill="#828282" stroke="none"/>
<path d="M1005 251.25C1005.71 251.16 1007.88 250.94 1010 250.62C1012.12 250.31 1016.46 249.39 1020 249C1023.54 248.61 1032.26 248.44 1035 247.88C1037.74 247.31 1038.14 246.12 1039.38 245C1040.61 243.88 1042.24 242.12 1043.75 240C1045.26 237.88 1048.41 232.39 1050 230C1051.59 227.61 1053.76 224.45 1055 223.12C1056.24 221.8 1057.69 221.16 1058.75 220.62C1059.81 220.09 1060.2 219.5 1062.5 219.38C1064.8 219.25 1068.8 219.7 1075 219.75C1081.2 219.8 1100.58 219.54 1106.25 219.75C1111.92 219.96 1112.34 220.9 1115 221.25C1117.66 221.6 1119.16 222.07 1125 222.25C1130.84 222.43 1150.05 222.43 1156.25 222.5C1162.45 222.57 1166.54 222.57 1168.75 222.75C1170.96 222.93 1170.81 222.99 1171.88 223.75C1172.94 224.51 1175.1 226.62 1176.25 228.12C1177.4 229.63 1178.94 232.66 1180 234.38C1181.06 236.09 1182.33 238.92 1183.75 240.25C1185.17 241.58 1188.23 243.13 1190 243.75C1191.77 244.37 1192.71 244.5 1196.25 244.62C1199.79 244.75 1210.93 244.36 1215 244.62C1219.07 244.89 1221.81 245.88 1225 246.5C1228.19 247.12 1234.31 248.36 1237.5 249C1240.69 249.64 1246.08 250.72 1247.5 251" fill="none" stroke="#000" stroke-width="1.7" stroke-linejoin="round" stroke-linecap="round"/>
<path d="M987.5 315 L992.5 308.75 L995.62 308.12 L998.75 305 L1001.25 295 L1003.75 285 L1010 287.5 L1014.38 289.38 L1017.5 297.5 L1020 306.25 L1022.5 311.88 L1025.62 314.75L1025.62 315.62L987.5 315.62Z" fill="#e6e6e6" stroke="none"/>
<path d="M987.5 315 L992.5 308.75 L995.62 308.12 L998.75 305 L1001.25 295 L1003.75 285 L1010 287.5 L1014.38 289.38 L1017.5 297.5 L1020 306.25 L1022.5 311.88 L1025.62 314.75" fill="none" stroke="#000" stroke-width="1.75" stroke-linejoin="round" stroke-linecap="round"/>
<path d="M1006.25 315 L1011.25 312.75 L1015.62 311.5 L1019.38 312.75 L1022.5 315L1022.5 315.62L1006.25 315.62Z" fill="#828282" stroke="none"/>
<path d="M1006.25 315 L1011.25 312.75 L1015.62 311.5 L1019.38 312.75 L1022.5 315" fill="none" stroke="#000" stroke-width="1.75" stroke-linejoin="round" stroke-linecap="round"/>
<path d="M1031.25 314.75 L1034.38 308.75 L1036.88 296.25 L1038.75 287.5 L1041.25 283.12 L1043.75 287.5 L1045.62 293.75 L1048.75 302.5 L1051.88 307.5 L1054.38 313.12 L1056.25 315L1056.25 315.62L1031.25 315.62Z" fill="#e6e6e6" stroke="none"/>
<path d="M1031.25 314.75 L1034.38 308.75 L1036.88 296.25 L1038.75 287.5 L1041.25 283.12 L1043.75 287.5 L1045.62 293.75 L1048.75 302.5 L1051.88 307.5 L1054.38 313.12 L1056.25 315" fill="none" stroke="#000" stroke-width="1.75" stroke-linejoin="round" stroke-linecap="round"/>
<path d="M1032.5 315 L1036.25 307.5 L1040 298.75 L1043.75 292.5 L1048.75 286.88 L1052.25 283.12 L1054.38 293.75 L1056.25 301.25 L1058.75 307.5 L1061.88 312.5 L1065 315L1065 315.62L1032.5 315.62Z" fill="#828282" stroke="none"/>
<path d="M1032.5 315 L1036.25 307.5 L1040 298.75 L1043.75 292.5 L1048.75 286.88 L1052.25 283.12 L1054.38 293.75 L1056.25 301.25 L1058.75 307.5 L1061.88 312.5 L1065 315" fill="none" stroke="#000" stroke-width="1.75" stroke-linejoin="round" stroke-linecap="round"/>
<path d="M1031.25 314.75 L1034.38 308.75 L1036.88 296.25 L1038.75 287.5 L1041.25 283.12 L1043.75 287.5 L1045.62 293.75 L1048.75 302.5 L1051.88 307.5 L1054.38 313.12 L1056.25 315" fill="none" stroke="#000" stroke-width="1.75" stroke-linejoin="round" stroke-linecap="round"/>
<path d="M997.5 378.88C998.03 378.68 1000.19 378.58 1001.25 377.5C1002.31 376.42 1003.94 372.7 1005 371.25C1006.06 369.8 1007.51 367.99 1008.75 367.25C1009.99 366.51 1012.33 366 1013.75 366C1015.17 366 1017.16 366.95 1018.75 367.25C1020.34 367.55 1023.05 367.95 1025 368.12C1026.95 368.3 1030.73 368.5 1032.5 368.5C1034.27 368.5 1036.35 368.62 1037.5 368.12C1038.65 367.63 1039.83 366.68 1040.62 365C1041.42 363.32 1042.42 358.64 1043.12 356.25C1043.83 353.86 1044.74 349.36 1045.62 348.12C1046.51 346.89 1048.58 346.53 1049.38 347.5C1050.17 348.47 1050.63 352.34 1051.25 355C1051.87 357.66 1053.04 363.59 1053.75 366.25C1054.46 368.91 1055.45 372.12 1056.25 373.75C1057.05 375.38 1058.49 376.99 1059.38 377.75C1060.26 378.51 1062.06 378.93 1062.5 379.12L1062.5 379.38L997.5 379.38Z" fill="#828282" stroke="none"/>
<path d="M997.5 378.88C998.03 378.68 1000.19 378.58 1001.25 377.5C1002.31 376.42 1003.94 372.7 1005 371.25C1006.06 369.8 1007.51 367.99 1008.75 367.25C1009.99 366.51 1012.33 366 1013.75 366C1015.17 366 1017.16 366.95 1018.75 367.25C1020.34 367.55 1023.05 367.95 1025 368.12C1026.95 368.3 1030.73 368.5 1032.5 368.5C1034.27 368.5 1036.35 368.62 1037.5 368.12C1038.65 367.63 1039.83 366.68 1040.62 365C1041.42 363.32 1042.42 358.64 1043.12 356.25C1043.83 353.86 1044.74 349.36 1045.62 348.12C1046.51 346.89 1048.58 346.53 1049.38 347.5C1050.17 348.47 1050.63 352.34 1051.25 355C1051.87 357.66 1053.04 363.59 1053.75 366.25C1054.46 368.91 1055.45 372.12 1056.25 373.75C1057.05 375.38 1058.49 376.99 1059.38 377.75C1060.26 378.51 1062.06 378.93 1062.5 379.12" fill="none" stroke="#000" stroke-width="1.7" stroke-linejoin="round" stroke-linecap="round"/>
<path d="M996.25 442.62 L998.75 438.75 L1001.25 426.25 L1003.75 410.62 L1006.88 415 L1010 423.75 L1015 431.25 L1017.5 438.12 L1020 442.5L1020 443.12L996.25 443.12Z" fill="#828282" stroke="none"/>
<path d="M996.25 442.62 L998.75 438.75 L1001.25 426.25 L1003.75 410.62 L1006.88 415 L1010 423.75 L1015 431.25 L1017.5 438.12 L1020 442.5" fill="none" stroke="#000" stroke-width="1.75" stroke-linejoin="round" stroke-linecap="round"/>
<path d="M1035 442.62C1035.44 441.72 1037.24 438.39 1038.12 436.25C1039.01 434.11 1040.28 429.98 1041.25 427.5C1042.22 425.02 1043.94 420.7 1045 418.75C1046.06 416.8 1047.6 414.85 1048.75 413.75C1049.9 412.65 1052.15 411.09 1053.12 411C1054.1 410.91 1054.65 411.5 1055.62 413.12C1056.6 414.75 1058.94 419.76 1060 422.5C1061.06 425.24 1062.24 430.11 1063.12 432.5C1064.01 434.89 1065.28 437.94 1066.25 439.38C1067.22 440.81 1069.47 442.16 1070 442.62L1070 443.12L1035 443.12Z" fill="#e6e6e6" stroke="none"/>
<path d="M1035 442.62C1035.44 441.72 1037.24 438.39 1038.12 436.25C1039.01 434.11 1040.28 429.98 1041.25 427.5C1042.22 425.02 1043.94 420.7 1045 418.75C1046.06 416.8 1047.6 414.85 1048.75 413.75C1049.9 412.65 1052.15 411.09 1053.12 411C1054.1 410.91 1054.65 411.5 1055.62 413.12C1056.6 414.75 1058.94 419.76 1060 422.5C1061.06 425.24 1062.24 430.11 1063.12 432.5C1064.01 434.89 1065.28 437.94 1066.25 439.38C1067.22 440.81 1069.47 442.16 1070 442.62" fill="none" stroke="#000" stroke-width="1.75" stroke-linejoin="round" stroke-linecap="round"/>
<path d="M1035.62 442.62C1036.07 441.37 1038.04 436.16 1038.75 433.75C1039.46 431.34 1040.09 427.48 1040.62 425.62C1041.16 423.77 1041.92 421.69 1042.5 420.62C1043.08 419.56 1044.13 417.68 1044.75 418.12C1045.37 418.57 1046.22 421.71 1046.88 423.75C1047.53 425.79 1048.67 430.46 1049.38 432.5C1050.08 434.54 1051.08 436.8 1051.88 438.12C1052.67 439.45 1054.2 441.22 1055 441.88C1055.8 442.53 1057.15 442.63 1057.5 442.75L1057.5 443.12L1035.62 443.12Z" fill="#828282" stroke="none"/>
<path d="M1035.62 442.62C1036.07 441.37 1038.04 436.16 1038.75 433.75C1039.46 431.34 1040.09 427.48 1040.62 425.62C1041.16 423.77 1041.92 421.69 1042.5 420.62C1043.08 419.56 1044.13 417.68 1044.75 418.12C1045.37 418.57 1046.22 421.71 1046.88 423.75C1047.53 425.79 1048.67 430.46 1049.38 432.5C1050.08 434.54 1051.08 436.8 1051.88 438.12C1052.67 439.45 1054.2 441.22 1055 441.88C1055.8 442.53 1057.15 442.63 1057.5 442.75" fill="none" stroke="#000" stroke-width="1.75" stroke-linejoin="round" stroke-linecap="round"/>
<path d="M1013.75 506.25C1014.28 505.36 1016.61 502.3 1017.5 500C1018.39 497.7 1019.2 492.83 1020 490C1020.8 487.17 1022.33 482.04 1023.12 480C1023.92 477.96 1025.01 476.33 1025.62 475.62C1026.24 474.92 1026.88 474.82 1027.5 475C1028.12 475.18 1029.29 475.81 1030 476.88C1030.71 477.94 1031.79 480.29 1032.5 482.5C1033.21 484.71 1034.29 489.84 1035 492.5C1035.71 495.16 1036.79 499.27 1037.5 501.25C1038.21 503.23 1039.65 505.76 1040 506.5L1040 507.25L1013.75 507.25Z" fill="#e6e6e6" stroke="none"/>
<path d="M1013.75 506.25C1014.28 505.36 1016.61 502.3 1017.5 500C1018.39 497.7 1019.2 492.83 1020 490C1020.8 487.17 1022.33 482.04 1023.12 480C1023.92 477.96 1025.01 476.33 1025.62 475.62C1026.24 474.92 1026.88 474.82 1027.5 475C1028.12 475.18 1029.29 475.81 1030 476.88C1030.71 477.94 1031.79 480.29 1032.5 482.5C1033.21 484.71 1034.29 489.84 1035 492.5C1035.71 495.16 1036.79 499.27 1037.5 501.25C1038.21 503.23 1039.65 505.76 1040 506.5" fill="none" stroke="#000" stroke-width="1.8" stroke-linejoin="round" stroke-linecap="round"/>
<path d="M973.75 506.62 L976.88 501.25 L980 490 L983.75 481.25 L987.75 474 L991.25 480 L993.75 485 L996.25 486.88 L998.75 492.5 L1001.25 500 L1003.75 504.38 L1007.5 505.75 L1015 505.25 L1019.38 500 L1022.5 494.38 L1026.25 490.62 L1030 489.38 L1033.12 491.88 L1035.62 497.5 L1038.12 503.75 L1040 506.5L1040 507.25L973.75 507.25Z" fill="#828282" stroke="none"/>
<path d="M973.75 506.62 L976.88 501.25 L980 490 L983.75 481.25 L987.75 474 L991.25 480 L993.75 485 L996.25 486.88 L998.75 492.5 L1001.25 500 L1003.75 504.38 L1007.5 505.75 L1015 505.25 L1019.38 500 L1022.5 494.38 L1026.25 490.62 L1030 489.38 L1033.12 491.88 L1035.62 497.5 L1038.12 503.75 L1040 506.5" fill="none" stroke="#000" stroke-width="1.8" stroke-linejoin="round" stroke-linecap="round"/>
<path d="M1774.38 126.25 L1779 125 L1783.38 121.5 L1786.5 114 L1789.25 102.75 L1791.88 94.75 L1796.25 95 L1799.38 100 L1802.5 110 L1806.25 120.62 L1810 124 L1817.5 125.62L1817.5 126.62L1774.38 126.62Z" fill="#828282" stroke="none"/>
<path d="M1774.38 126.25 L1779 125 L1783.38 121.5 L1786.5 114 L1789.25 102.75 L1791.88 94.75 L1796.25 95 L1799.38 100 L1802.5 110 L1806.25 120.62 L1810 124 L1817.5 125.62" fill="none" stroke="#000" stroke-width="1.75" stroke-linejoin="round" stroke-linecap="round"/>
<path d="M1775 126 L1780 123.75 L1785 116.25 L1788.75 103.75 L1791.88 95 L1794.38 96.25 L1798.12 105 L1801.88 115 L1805 121.88 L1808.12 124.38" fill="none" stroke="#000" stroke-width="1.75" stroke-linejoin="round" stroke-linecap="round"/>
<path d="M1817.5 125.62 L1820.62 118.75 L1823.75 106.25 L1827.5 98.12 L1831.25 95 L1835 95 L1837.5 98.12 L1840 99.38 L1842.5 95 L1847.5 94.75 L1851.25 96.25 L1853.75 106.25 L1856.25 115 L1858.75 103.75 L1861.5 96.25 L1864.38 103.75 L1866.88 115 L1869.38 123.12 L1872.5 125 L1877.5 125.62L1877.5 126.62L1817.5 126.62Z" fill="#e6e6e6" stroke="none"/>
<path d="M1817.5 125.62 L1820.62 118.75 L1823.75 106.25 L1827.5 98.12 L1831.25 95 L1835 95 L1837.5 98.12 L1840 99.38 L1842.5 95 L1847.5 94.75 L1851.25 96.25 L1853.75 106.25 L1856.25 115 L1858.75 103.75 L1861.5 96.25 L1864.38 103.75 L1866.88 115 L1869.38 123.12 L1872.5 125 L1877.5 125.62" fill="none" stroke="#000" stroke-width="1.75" stroke-linejoin="round" stroke-linecap="round"/>
<path d="M1820 125.62 L1823.75 121.25 L1828.75 119.38 L1833.75 120.62 L1840 121.88 L1847.5 122.75 L1852.5 124.38 L1856.25 125.62 L1861.25 124.38 L1866.25 126L1866.25 126.62L1820 126.62Z" fill="#828282" stroke="none"/>
<path d="M1820 125.62 L1823.75 121.25 L1828.75 119.38 L1833.75 120.62 L1840 121.88 L1847.5 122.75 L1852.5 124.38 L1856.25 125.62 L1861.25 124.38 L1866.25 126" fill="none" stroke="#000" stroke-width="1.75" stroke-linejoin="round" stroke-linecap="round"/>
<path d="M1872.25 125.75 L1877.25 125.25 L1879.75 122.5 L1882.5 118.12 L1887.25 119.38 L1891 118.75 L1894.75 119 L1898.5 118.75 L1901.25 117.75 L1904.12 121.25 L1908.5 123.12 L1912.25 125.25 L1917.25 125.25 L1922.25 120 L1926 111.25 L1930.38 99.38 L1932.88 99.75 L1936 96.5 L1939.12 98.12 L1939.12 126.25L1939.12 126.62L1872.25 126.62Z" fill="#e6e6e6" stroke="none"/>
<path d="M1872.25 125.75 L1877.25 125.25 L1879.75 122.5 L1882.5 118.12 L1887.25 119.38 L1891 118.75 L1894.75 119 L1898.5 118.75 L1901.25 117.75 L1904.12 121.25 L1908.5 123.12 L1912.25 125.25 L1917.25 125.25 L1922.25 120 L1926 111.25 L1930.38 99.38 L1932.88 99.75 L1936 96.5 L1939.12 98.12 L1939.12 126.25" fill="none" stroke="#000" stroke-width="1.75" stroke-linejoin="round" stroke-linecap="round"/>
<path d="M1648.75 190 L1651.88 188.12 L1655 184.38 L1658.75 181.25 L1661.25 171.25 L1663.75 164.38 L1666.88 158.75 L1670 158.75 L1672.5 165 L1675 175 L1677.5 182.5 L1680.62 188.5 L1686.25 189.38 L1692.5 190.38L1692.5 190.62L1648.75 190.62Z" fill="#e6e6e6" stroke="none"/>
<path d="M1648.75 190 L1651.88 188.12 L1655 184.38 L1658.75 181.25 L1661.25 171.25 L1663.75 164.38 L1666.88 158.75 L1670 158.75 L1672.5 165 L1675 175 L1677.5 182.5 L1680.62 188.5 L1686.25 189.38 L1692.5 190.38" fill="none" stroke="#000" stroke-width="1.75" stroke-linejoin="round" stroke-linecap="round"/>
<path d="M1752.5 190 L1755 186.25 L1756.88 173.75 L1758.75 162.5 L1760 158.12 L1763.12 163.12 L1764.38 173.75 L1766.25 183.75 L1768.75 188.12 L1772.5 190.25L1772.5 190.62L1752.5 190.62Z" fill="#828282" stroke="none"/>
<path d="M1752.5 190 L1755 186.25 L1756.88 173.75 L1758.75 162.5 L1760 158.12 L1763.12 163.12 L1764.38 173.75 L1766.25 183.75 L1768.75 188.12 L1772.5 190.25" fill="none" stroke="#000" stroke-width="1.75" stroke-linejoin="round" stroke-linecap="round"/>
<path d="M1650 254.12 L1658.12 252.25 L1661.25 245 L1665 236.25 L1669.38 224.38 L1672.25 221.88 L1675 227.5 L1678.12 237.5 L1680.62 247.5 L1685.62 248.75 L1690.62 252.88 L1700 254.12L1700 254.62L1650 254.62Z" fill="#e6e6e6" stroke="none"/>
<path d="M1650 254.12 L1658.12 252.25 L1661.25 245 L1665 236.25 L1669.38 224.38 L1672.25 221.88 L1675 227.5 L1678.12 237.5 L1680.62 247.5 L1685.62 248.75 L1690.62 252.88 L1700 254.12" fill="none" stroke="#000" stroke-width="1.75" stroke-linejoin="round" stroke-linecap="round"/>
<path d="M1748.75 254.12 L1751.88 250 L1754.38 241.25 L1756.25 230 L1757.75 223.12 L1759.38 230 L1761.25 241.25 L1763.12 248.75 L1765.62 253.75L1765.62 254.62L1748.75 254.62Z" fill="#828282" stroke="none"/>
<path d="M1748.75 254.12 L1751.88 250 L1754.38 241.25 L1756.25 230 L1757.75 223.12 L1759.38 230 L1761.25 241.25 L1763.12 248.75 L1765.62 253.75" fill="none" stroke="#000" stroke-width="1.75" stroke-linejoin="round" stroke-linecap="round"/>
<path d="M1658.12 317.5 L1662.5 314.38 L1666.88 308.12 L1670 298.75 L1672.5 290.62 L1675 286.25 L1678.12 290 L1680 300.62 L1683.75 302.25 L1686.25 303.75 L1690.62 312.5 L1696.25 315 L1702.5 316.88 L1711.25 317.75L1711.25 318.12L1658.12 318.12Z" fill="#e6e6e6" stroke="none"/>
<path d="M1658.12 317.5 L1662.5 314.38 L1666.88 308.12 L1670 298.75 L1672.5 290.62 L1675 286.25 L1678.12 290 L1680 300.62 L1683.75 302.25 L1686.25 303.75 L1690.62 312.5 L1696.25 315 L1702.5 316.88 L1711.25 317.75" fill="none" stroke="#000" stroke-width="1.75" stroke-linejoin="round" stroke-linecap="round"/>
<path d="M1730 317.75 L1738.75 317 L1746.88 312.5 L1750 306.25 L1752.5 295 L1754.62 285.62 L1758.12 291.25 L1759.38 302.5 L1761.25 313.75 L1763.75 316.88 L1767.5 317.88L1767.5 318.12L1730 318.12Z" fill="#828282" stroke="none"/>
<path d="M1730 317.75 L1738.75 317 L1746.88 312.5 L1750 306.25 L1752.5 295 L1754.62 285.62 L1758.12 291.25 L1759.38 302.5 L1761.25 313.75 L1763.75 316.88 L1767.5 317.88" fill="none" stroke="#000" stroke-width="1.75" stroke-linejoin="round" stroke-linecap="round"/>
<path d="M1751.25 317.75 L1757.5 314.75 L1761.25 317.75L1761.25 318.12L1751.25 318.12Z" fill="#828282" stroke="none"/>
<path d="M1751.25 317.75 L1757.5 314.75 L1761.25 317.75" fill="none" stroke="#000" stroke-width="1.75" stroke-linejoin="round" stroke-linecap="round"/>
<path d="M1688.75 382C1689.64 381.93 1692.52 381.78 1695 381.5C1697.48 381.22 1703.59 380.66 1706.25 380C1708.91 379.34 1711.8 378.11 1713.75 376.88C1715.7 375.64 1718.05 373.2 1720 371.25C1721.95 369.3 1725.38 365.25 1727.5 363.12C1729.62 361 1733.05 357.84 1735 356.25C1736.95 354.66 1739.66 352.73 1741.25 351.88C1742.84 351.02 1745.01 350.25 1746.25 350.25C1747.49 350.25 1749.03 350.67 1750 351.88C1750.97 353.08 1752.33 356.36 1753.12 358.75C1753.92 361.14 1754.92 366.09 1755.62 368.75C1756.33 371.41 1757.42 375.66 1758.12 377.5C1758.83 379.34 1760.27 381.15 1760.62 381.75L1760.62 382.25L1688.75 382.25Z" fill="#828282" stroke="none"/>
<path d="M1688.75 382C1689.64 381.93 1692.52 381.78 1695 381.5C1697.48 381.22 1703.59 380.66 1706.25 380C1708.91 379.34 1711.8 378.11 1713.75 376.88C1715.7 375.64 1718.05 373.2 1720 371.25C1721.95 369.3 1725.38 365.25 1727.5 363.12C1729.62 361 1733.05 357.84 1735 356.25C1736.95 354.66 1739.66 352.73 1741.25 351.88C1742.84 351.02 1745.01 350.25 1746.25 350.25C1747.49 350.25 1749.03 350.67 1750 351.88C1750.97 353.08 1752.33 356.36 1753.12 358.75C1753.92 361.14 1754.92 366.09 1755.62 368.75C1756.33 371.41 1757.42 375.66 1758.12 377.5C1758.83 379.34 1760.27 381.15 1760.62 381.75" fill="none" stroke="#000" stroke-width="1.7" stroke-linejoin="round" stroke-linecap="round"/>
<path d="M1685 445.75 L1695 442.5 L1703.75 437.5 L1710 431.25 L1713.75 422.5 L1717.5 413.75 L1722.5 414.75 L1728.12 415.62 L1733.75 422.5 L1738.75 421.88 L1743.75 427.5 L1747.5 429 L1751.25 435 L1755 440 L1757.5 441.88 L1762.5 439.38 L1765 433.75 L1768.12 426.25 L1771.25 422.5 L1773.75 415 L1776.25 417.5 L1778.75 426.25 L1781.88 436.25 L1786.25 443.12 L1790 445.88L1790 446.25L1685 446.25Z" fill="#e6e6e6" stroke="none"/>
<path d="M1685 445.75 L1695 442.5 L1703.75 437.5 L1710 431.25 L1713.75 422.5 L1717.5 413.75 L1722.5 414.75 L1728.12 415.62 L1733.75 422.5 L1738.75 421.88 L1743.75 427.5 L1747.5 429 L1751.25 435 L1755 440 L1757.5 441.88 L1762.5 439.38 L1765 433.75 L1768.12 426.25 L1771.25 422.5 L1773.75 415 L1776.25 417.5 L1778.75 426.25 L1781.88 436.25 L1786.25 443.12 L1790 445.88" fill="none" stroke="#000" stroke-width="1.75" stroke-linejoin="round" stroke-linecap="round"/>
<path d="M1687.5 445.88 L1695 443.75 L1702.5 440 L1707.5 435 L1712.5 428.75 L1715 420 L1718.12 414.38 L1722.5 418.75 L1728.75 425 L1733.75 430.62 L1737.5 433.12 L1745 440 L1751.25 444 L1756.25 445.88L1756.25 446.25L1687.5 446.25Z" fill="#828282" stroke="none"/>
<path d="M1687.5 445.88 L1695 443.75 L1702.5 440 L1707.5 435 L1712.5 428.75 L1715 420 L1718.12 414.38 L1722.5 418.75 L1728.75 425 L1733.75 430.62 L1737.5 433.12 L1745 440 L1751.25 444 L1756.25 445.88" fill="none" stroke="#000" stroke-width="1.75" stroke-linejoin="round" stroke-linecap="round"/>
<path d="M1851.25 445.75 L1855.62 443.75 L1859.38 445.75L1859.38 446.25L1851.25 446.25Z" fill="#111" stroke="none"/>
<path d="M1851.25 445.75 L1855.62 443.75 L1859.38 445.75" fill="none" stroke="#000" stroke-width="1.75" stroke-linejoin="round" stroke-linecap="round"/>
<path d="M1663.75 509.12 L1668.75 507.5 L1672.5 501.25 L1676.25 490 L1680 478.5 L1686.25 477.88 L1689.38 479.38 L1692.5 483.75 L1696.25 486.88 L1700 491.25 L1706.25 498.12 L1712.5 503.12 L1716.25 507.5 L1720 508.75 L1725 507.5 L1730 506.88 L1733.75 505.62 L1738.75 506.25 L1742.5 503.75 L1747.5 501.88 L1751.25 497.5 L1755 490.62 L1757.5 486.5 L1760.62 490 L1763.12 492.5 L1766.25 501.25 L1770 505 L1773.75 508.75 L1776.25 509.38L1776.25 509.62L1663.75 509.62Z" fill="#e6e6e6" stroke="none"/>
<path d="M1663.75 509.12 L1668.75 507.5 L1672.5 501.25 L1676.25 490 L1680 478.5 L1686.25 477.88 L1689.38 479.38 L1692.5 483.75 L1696.25 486.88 L1700 491.25 L1706.25 498.12 L1712.5 503.12 L1716.25 507.5 L1720 508.75 L1725 507.5 L1730 506.88 L1733.75 505.62 L1738.75 506.25 L1742.5 503.75 L1747.5 501.88 L1751.25 497.5 L1755 490.62 L1757.5 486.5 L1760.62 490 L1763.12 492.5 L1766.25 501.25 L1770 505 L1773.75 508.75 L1776.25 509.38" fill="none" stroke="#000" stroke-width="1.75" stroke-linejoin="round" stroke-linecap="round"/>
<path d="M1678.75 509.12 L1683.75 505 L1688.75 497.5 L1693.75 488.12 L1698.75 481.25 L1703.75 477.5 L1707.5 480.62 L1710.62 484.38 L1713.12 490 L1715 498.75 L1717.5 506.25 L1720 509.12L1720 509.62L1678.75 509.62Z" fill="#828282" stroke="none"/>
<path d="M1678.75 509.12 L1683.75 505 L1688.75 497.5 L1693.75 488.12 L1698.75 481.25 L1703.75 477.5 L1707.5 480.62 L1710.62 484.38 L1713.12 490 L1715 498.75 L1717.5 506.25 L1720 509.12" fill="none" stroke="#000" stroke-width="1.75" stroke-linejoin="round" stroke-linecap="round"/>
<path d="M1696.25 486.88 L1700 491.25 L1706.25 498.12 L1712.5 503.12 L1716.25 507.5 L1718.75 509" fill="none" stroke="#000" stroke-width="1.75" stroke-linejoin="round" stroke-linecap="round"/>
<path d="M1728.75 509 L1733.75 506.88 L1738.75 508.12 L1743.75 509.12L1743.75 509.62L1728.75 509.62Z" fill="#828282" stroke="none"/>
<path d="M1728.75 509 L1733.75 506.88 L1738.75 508.12 L1743.75 509.12" fill="none" stroke="#000" stroke-width="1.75" stroke-linejoin="round" stroke-linecap="round"/>
<path d="M1676.25 573.25 L1680 570 L1685 569.38 L1688.75 566.25 L1691.25 560.62 L1696.25 556.25 L1700 551.25 L1705 545.62 L1710 543.12 L1713.75 542.5 L1715.62 543.75 L1717.5 551.25 L1720 554.38 L1722.5 549.38 L1727.5 548.12 L1730.62 544.38 L1733.75 542.5 L1741.25 541.88 L1746.25 541.88 L1749.38 543.75 L1752.5 548.12 L1755.62 552.5 L1757.5 556.88 L1760 553.75 L1763.12 550 L1765.62 543.75 L1768.12 541.88 L1771.25 542.5 L1773.75 550 L1776.25 561.25 L1778.75 569.38 L1781.88 572.5 L1787.5 573.5L1787.5 574L1676.25 574Z" fill="#e6e6e6" stroke="none"/>
<path d="M1676.25 573.25 L1680 570 L1685 569.38 L1688.75 566.25 L1691.25 560.62 L1696.25 556.25 L1700 551.25 L1705 545.62 L1710 543.12 L1713.75 542.5 L1715.62 543.75 L1717.5 551.25 L1720 554.38 L1722.5 549.38 L1727.5 548.12 L1730.62 544.38 L1733.75 542.5 L1741.25 541.88 L1746.25 541.88 L1749.38 543.75 L1752.5 548.12 L1755.62 552.5 L1757.5 556.88 L1760 553.75 L1763.12 550 L1765.62 543.75 L1768.12 541.88 L1771.25 542.5 L1773.75 550 L1776.25 561.25 L1778.75 569.38 L1781.88 572.5 L1787.5 573.5" fill="none" stroke="#000" stroke-width="1.75" stroke-linejoin="round" stroke-linecap="round"/>
<path d="M1673.75 573.38 L1676.88 568.75 L1678.75 561.25 L1680.62 556.88 L1685 555 L1687.5 550 L1690.62 541.88 L1693.75 543.12 L1697.5 546.88 L1700 550 L1702.5 555 L1706.25 560.62 L1710 566.25 L1713.75 570.62 L1717.5 572.75 L1735 573.5L1735 574L1673.75 574Z" fill="#828282" stroke="none"/>
<path d="M1673.75 573.38 L1676.88 568.75 L1678.75 561.25 L1680.62 556.88 L1685 555 L1687.5 550 L1690.62 541.88 L1693.75 543.12 L1697.5 546.88 L1700 550 L1702.5 555 L1706.25 560.62 L1710 566.25 L1713.75 570.62 L1717.5 572.75 L1735 573.5" fill="none" stroke="#000" stroke-width="1.75" stroke-linejoin="round" stroke-linecap="round"/>
<path d="M1676.25 573.25 L1680 570 L1685 569.38 L1688.75 566.25 L1691.25 560.62 L1696.25 556.25 L1700 551.25" fill="none" stroke="#000" stroke-width="1.75" stroke-linejoin="round" stroke-linecap="round"/>
<path d="M1515 637.5C1516.77 637.41 1524.93 637.19 1527.5 636.88C1530.07 636.56 1531.53 635.25 1533.12 635.25C1534.72 635.25 1536.89 636.7 1538.75 636.88C1540.61 637.05 1544.74 636.45 1546.25 636.5C1547.76 636.55 1548.93 637.14 1549.38 637.25L1549.38 637.75L1515 637.75Z" fill="#111" stroke="none"/>
<path d="M1515 637.5C1516.77 637.41 1524.93 637.19 1527.5 636.88C1530.07 636.56 1531.53 635.25 1533.12 635.25C1534.72 635.25 1536.89 636.7 1538.75 636.88C1540.61 637.05 1544.74 636.45 1546.25 636.5C1547.76 636.55 1548.93 637.14 1549.38 637.25" fill="none" stroke="#000" stroke-width="1.7" stroke-linejoin="round" stroke-linecap="round"/>
<path d="M1547.5 637.25C1547.77 636.93 1548.84 636.03 1549.38 635C1549.91 633.97 1550.72 631.95 1551.25 630C1551.78 628.05 1552.59 623.73 1553.12 621.25C1553.66 618.77 1554.38 614.36 1555 612.5C1555.62 610.64 1556.7 609.05 1557.5 608.12C1558.3 607.2 1559.74 606.09 1560.62 606C1561.51 605.91 1562.69 606.93 1563.75 607.5C1564.81 608.07 1566.89 610 1568.12 610C1569.36 610 1571.35 608.12 1572.5 607.5C1573.65 606.88 1575.36 605.45 1576.25 605.62C1577.14 605.8 1578.13 607.24 1578.75 608.75C1579.37 610.26 1580.09 613.77 1580.62 616.25C1581.16 618.73 1581.97 623.77 1582.5 626.25C1583.03 628.73 1583.76 632.21 1584.38 633.75C1584.99 635.29 1586.52 636.65 1586.88 637.12L1586.88 637.75L1547.5 637.75Z" fill="#e6e6e6" stroke="none"/>
<path d="M1547.5 637.25C1547.77 636.93 1548.84 636.03 1549.38 635C1549.91 633.97 1550.72 631.95 1551.25 630C1551.78 628.05 1552.59 623.73 1553.12 621.25C1553.66 618.77 1554.38 614.36 1555 612.5C1555.62 610.64 1556.7 609.05 1557.5 608.12C1558.3 607.2 1559.74 606.09 1560.62 606C1561.51 605.91 1562.69 606.93 1563.75 607.5C1564.81 608.07 1566.89 610 1568.12 610C1569.36 610 1571.35 608.12 1572.5 607.5C1573.65 606.88 1575.36 605.45 1576.25 605.62C1577.14 605.8 1578.13 607.24 1578.75 608.75C1579.37 610.26 1580.09 613.77 1580.62 616.25C1581.16 618.73 1581.97 623.77 1582.5 626.25C1583.03 628.73 1583.76 632.21 1584.38 633.75C1584.99 635.29 1586.52 636.65 1586.88 637.12" fill="none" stroke="#000" stroke-width="1.7" stroke-linejoin="round" stroke-linecap="round"/>
<path d="M1550.62 637.25C1551.07 636.4 1552.78 632.99 1553.75 631.25C1554.72 629.51 1556.35 626.51 1557.5 625C1558.65 623.49 1560.46 621.69 1561.88 620.62C1563.29 619.56 1566.26 618.39 1567.5 617.5C1568.74 616.61 1569.74 615.61 1570.62 614.38C1571.51 613.14 1572.95 609.99 1573.75 608.75C1574.55 607.51 1575.54 605.62 1576.25 605.62C1576.96 605.62 1578.13 607.24 1578.75 608.75C1579.37 610.26 1580.09 613.77 1580.62 616.25C1581.16 618.73 1581.97 623.77 1582.5 626.25C1583.03 628.73 1583.76 632.21 1584.38 633.75C1584.99 635.29 1586.52 636.65 1586.88 637.12L1586.88 637.75L1550.62 637.75Z" fill="#828282" stroke="none"/>
<path d="M1550.62 637.25C1551.07 636.4 1552.78 632.99 1553.75 631.25C1554.72 629.51 1556.35 626.51 1557.5 625C1558.65 623.49 1560.46 621.69 1561.88 620.62C1563.29 619.56 1566.26 618.39 1567.5 617.5C1568.74 616.61 1569.74 615.61 1570.62 614.38C1571.51 613.14 1572.95 609.99 1573.75 608.75C1574.55 607.51 1575.54 605.62 1576.25 605.62C1576.96 605.62 1578.13 607.24 1578.75 608.75C1579.37 610.26 1580.09 613.77 1580.62 616.25C1581.16 618.73 1581.97 623.77 1582.5 626.25C1583.03 628.73 1583.76 632.21 1584.38 633.75C1584.99 635.29 1586.52 636.65 1586.88 637.12" fill="none" stroke="#000" stroke-width="1.7" stroke-linejoin="round" stroke-linecap="round"/>
</g>
<g id="baselines">
<path d="M641 124H853.75" stroke="#000" stroke-width="1.6" fill="none"/>
<path d="M681.25 129.38V134.38H701.62V129.38M729.12 129.38V134.38H758.38V129.38M674.75 139.38V144.62H705.88V139.38M709.62 139.38V144.62H761.88V139.38" fill="none" stroke="#000" stroke-width="1.4"/>
<path d="M587.9 187.88H771.9" stroke="#000" stroke-width="1.6" fill="none"/>
<path d="M662.25 193.5V198.75H680V193.5M657.5 203.5V208.75H695V203.5M740.88 203.5V208.75H749.12V203.5" fill="none" stroke="#000" stroke-width="1.4"/>
<path d="M630 251.75H849.5" stroke="#000" stroke-width="1.6" fill="none"/>
<path d="M659.12 257.5V264.62H672.88V257.5M653.12 271.88V278.75H685.25V271.88" fill="none" stroke="#000" stroke-width="1.4"/>
<path d="M325 316.25H556" stroke="#000" stroke-width="1.6" fill="none"/>
<path d="M360.62 321.25V326.88H383.12V321.25M388.75 321.25V326.88H400.25V321.25M406.5 321.25V326.88H417.25V321.25M420 321.25V326.88H429.38V321.25M434.75 321.25V326.88H458.12V321.25M463.5 321.25V326.88H473.75V321.25M480.88 321.25V326.88H503.38V321.25M508.5 321.25V326.88H529.38V321.25M537.75 321.25V326.88H545V321.25M358.75 331.25V336.62H383.75V331.25M387.12 331.25V336.62H555" fill="none" stroke="#000" stroke-width="1.4"/>
<path d="M556 316H743.1" stroke="#000" stroke-width="1.6" fill="none"/>
<path d="M555 321.25V326.88H571V321.25M573.75 321.25V326.88H580.25V321.25M586 321.25V326.88H607.5V321.25M610.62 321.25V326.88H650V321.25M551.25 336.62H656V331.25" fill="none" stroke="#000" stroke-width="1.4"/>
<path d="M171 379.62H365" stroke="#000" stroke-width="1.6" fill="none"/>
<path d="M330.88 385V390.25H341.88V385M349.62 385V390.25H353.12V385M346.88 385V390.25M330.62 395V400.25H354.75V395" fill="none" stroke="#000" stroke-width="1.4"/>
<path d="M222 443.38H444.75" stroke="#000" stroke-width="1.6" fill="none"/>
<path d="M330 448.75V453.75H352.5V448.75M321.88 459V464H359.62V459" fill="none" stroke="#000" stroke-width="1.4"/>
<path d="M299 507.5H530.6" stroke="#000" stroke-width="1.6" fill="none"/>
<path d="M311.88 513.12V518.12H322.5V513.12M308.75 523.12V528.38H330V523.12" fill="none" stroke="#000" stroke-width="1.4"/>
<path d="M32.5 571.25H264.4" stroke="#000" stroke-width="1.6" fill="none"/>
<path d="M158.75 576.62V582.12H183.38V576.62M191.5 576.62V582.12H203.5V576.62M133.12 586.62V591.88H210.38V586.62" fill="none" stroke="#000" stroke-width="1.4"/>
<path d="M1065 124H1339.75" stroke="#000" stroke-width="1.6" fill="none"/>
<path d="M1173.75 129.38V134.38H1187.25V129.38M1243.12 129.38V134.38H1253.12V129.38M1169.62 139.38V144.38H1193.5V139.38M1219.75 139.38V144.38H1256.25V139.38M1329.38 139.38V144.38H1333.12V139.38" fill="none" stroke="#000" stroke-width="1.4"/>
<path d="M1076 187.75H1339.75" stroke="#000" stroke-width="1.6" fill="none"/>
<path d="M1109.62 203.38V208.38H1114.62V203.38" fill="none" stroke="#000" stroke-width="1.4"/>
<path d="M1168.75 193.12V198.38H1189V193.12M1223.75 193.12V198.38H1226.5V193.12M1242.5 193.12V198.38H1246.5V193.12M1166.25 203.38V208.38H1194.75V203.38M1216.25 203.38V208.38H1251.5V203.38" fill="none" stroke="#000" stroke-width="1.4"/>
<path d="M998.5 251.5H1326.9" stroke="#000" stroke-width="1.6" fill="none"/>
<path d="M1056.5 257.12V262.12H1126V257.12M1128.5 257.12V262.12H1142.25V257.12M1146.25 257.12V262.12H1167.5V257.12M1040 267.5V272.12H1207.25V267.5M1211.25 267.5V272.12H1218.12V267.5" fill="none" stroke="#000" stroke-width="1.4"/>
<path d="M969 315.62H1078.5" stroke="#000" stroke-width="1.6" fill="none"/>
<path d="M1039 321.25V326.25H1055V321.25M1010.38 331.25V336.25H1020V331.25M1032.75 331.25V336.25H1062.25V331.25" fill="none" stroke="#000" stroke-width="1.4"/>
<path d="M982.5 379.38H1073.1" stroke="#000" stroke-width="1.6" fill="none"/>
<path d="M1008.75 385V390.25H1022.25V385M1038.12 385V390.25H1054.38V385M1005 395V400.25H1056.25V395" fill="none" stroke="#000" stroke-width="1.4"/>
<path d="M977.25 443.12H1163.75" stroke="#000" stroke-width="1.6" fill="none"/>
<path d="M1001.62 448.5V453.75H1012.25V448.5M1039.75 448.5V453.75H1049.38V448.5M998.75 458.75V463.75H1017.5V458.75M1036 458.75V463.75H1053.5V458.75" fill="none" stroke="#000" stroke-width="1.4"/>
<path d="M940 507.25H1062.5" stroke="#000" stroke-width="1.6" fill="none"/>
<path d="M981 512.5V517.88H998.75V512.5M1024.75 512.5V517.88H1033.12V512.5M975.62 522.5V527.88H1003.5V522.5M1016.62 522.5V527.88H1038.38V522.5" fill="none" stroke="#000" stroke-width="1.4"/>
<path d="M1699 126.62H1946.6" stroke="#000" stroke-width="1.6" fill="none"/>
<path d="M1784 132.12V137.12H1804.38V132.12M1825.62 132.12V137.12H1834.62V132.12M1778.5 142.5V147.12H1809V142.5M1819.75 142.5V147.12H1865.38V142.5" fill="none" stroke="#000" stroke-width="1.4"/>
<path d="M1590 190.62H1781.9" stroke="#000" stroke-width="1.6" fill="none"/>
<path d="M1757.5 196.25V201.25H1764.38V196.25M1754.75 206.25V211.88H1768.12V206.25" fill="none" stroke="#000" stroke-width="1.4"/>
<path d="M1598 254.62H1784" stroke="#000" stroke-width="1.6" fill="none"/>
<path d="M1755 260V265.25H1761.25V260M1751 270V275.25H1764.12V270" fill="none" stroke="#000" stroke-width="1.4"/>
<path d="M1600.25 318.12H1786.9" stroke="#000" stroke-width="1.6" fill="none"/>
<path d="M1750 324.12V328.75H1759.62V324.12M1738.75 334V338.75H1763.12V334" fill="none" stroke="#000" stroke-width="1.4"/>
<path d="M1677.5 382.25H1773.75" stroke="#000" stroke-width="1.6" fill="none"/>
<path d="M1729.62 387.5V392.88H1755V387.5M1714.75 397.5V402.88H1758.12V397.5" fill="none" stroke="#000" stroke-width="1.4"/>
<path d="M1661.5 446.25H1939" stroke="#000" stroke-width="1.6" fill="none"/>
<path d="M1709.75 451.62V456.88H1736V451.62M1700 461.62V466.88H1748.75V461.62" fill="none" stroke="#000" stroke-width="1.4"/>
<path d="M1643 509.62H1864" stroke="#000" stroke-width="1.6" fill="none"/>
<path d="M1693.75 515.62V520.88H1712.12V515.62M1680.62 525.62V530.62H1718.75V525.62M1723.12 525.62V530.62H1738.75V525.62" fill="none" stroke="#000" stroke-width="1.4"/>
<path d="M1656.25 574H1939" stroke="#000" stroke-width="1.6" fill="none"/>
<path d="M1682.5 579.38V584.38H1703.12V579.38M1675.62 589.38V594.62H1714.75V589.38" fill="none" stroke="#000" stroke-width="1.4"/>
<path d="M1451.25 637.75H1648" stroke="#000" stroke-width="1.6" fill="none"/>
<path d="M1561.88 643.12V648.38H1581.88V643.12M1552.12 653.38V658.38H1584.38V653.38" fill="none" stroke="#000" stroke-width="1.4"/>
</g>
<g id="grid">
<path d="M27.6 65.2V614" stroke="#000" stroke-width="1.8" stroke-dasharray="7.5 11.25" stroke-dashoffset="0.45" fill="none"/>
<path d="M134.1 65.2V614" stroke="#000" stroke-width="1.8" stroke-dasharray="7.5 11.25" stroke-dashoffset="0.45" fill="none"/>
<path d="M240.6 65.2V614" stroke="#000" stroke-width="1.8" stroke-dasharray="7.5 11.25" stroke-dashoffset="0.45" fill="none"/>
<path d="M347.1 65.2V614" stroke="#000" stroke-width="1.8" stroke-dasharray="7.5 11.25" stroke-dashoffset="0.45" fill="none"/>
<path d="M453.6 65.2V614" stroke="#000" stroke-width="1.8" stroke-dasharray="7.5 11.25" stroke-dashoffset="0.45" fill="none"/>
<path d="M636.3 65.2V598" stroke="#000" stroke-width="1.8" stroke-dasharray="7.6 11.46" stroke-dashoffset="3.66" fill="none"/>
<path d="M742.8 65.2V598" stroke="#000" stroke-width="1.8" stroke-dasharray="7.6 11.46" stroke-dashoffset="3.66" fill="none"/>
<path d="M849.3 65.2V598" stroke="#000" stroke-width="1.8" stroke-dasharray="7.6 11.46" stroke-dashoffset="3.66" fill="none"/>
<path d="M934.5 65.2V533.3" stroke="#000" stroke-width="1.8" stroke-dasharray="3.8 11.29" stroke-dashoffset="1.59" fill="none"/>
<path d="M1041 65.2V533.3" stroke="#000" stroke-width="1.8" stroke-dasharray="3.8 11.29" stroke-dashoffset="1.59" fill="none"/>
<path d="M1147.5 65.2V533.3" stroke="#000" stroke-width="1.8" stroke-dasharray="3.8 11.29" stroke-dashoffset="1.59" fill="none"/>
<path d="M1254 65.2V533.3" stroke="#000" stroke-width="1.8" stroke-dasharray="3.8 11.29" stroke-dashoffset="1.59" fill="none"/>
<path d="M1360.5 65.2V533.3" stroke="#000" stroke-width="1.8" stroke-dasharray="3.8 11.29" stroke-dashoffset="1.59" fill="none"/>
<path d="M1435.3 65.2V668" stroke="#000" stroke-width="1.8" stroke-dasharray="3.7 11.33" stroke-dashoffset="5.56" fill="none"/>
<path d="M1541.8 65.2V668" stroke="#000" stroke-width="1.8" stroke-dasharray="3.7 11.33" stroke-dashoffset="5.56" fill="none"/>
<path d="M1648.3 65.2V668" stroke="#000" stroke-width="1.8" stroke-dasharray="3.7 11.33" stroke-dashoffset="5.56" fill="none"/>
<path d="M1754.8 65.2V668" stroke="#000" stroke-width="1.8" stroke-dasharray="3.7 11.33" stroke-dashoffset="5.56" fill="none"/>
<path d="M1861.3 65.2V668" stroke="#000" stroke-width="1.8" stroke-dasharray="3.7 11.33" stroke-dashoffset="5.56" fill="none"/>
<path d="M1967.8 65.2V668" stroke="#000" stroke-width="1.8" stroke-dasharray="3.7 11.33" stroke-dashoffset="5.56" fill="none"/>
</g>
<g id="break">
<path d="M550.6 280 C555.5 294 555.5 306 552.6 318 C549.8 328 550.5 338 553.3 345.6 L560 345.6 C556.8 338 556.3 328 559.1 318 C561.8 306 561.8 294 557.3 280Z" fill="#fff" stroke="none"/>
<path d="M550.6 280 C555.5 294 555.5 306 552.6 318 C549.8 328 550.5 338 553.3 345.6" fill="none" stroke="#000" stroke-width="2"/>
<path d="M557.3 280 C561.8 294 561.8 306 559.1 318 C556.3 328 556.8 338 560 345.6" fill="none" stroke="#000" stroke-width="2"/>
</g>
<g id="labels">
<text transform="translate(30.58 49.4) scale(0.97 1)" font-size="55.4" stroke="#000" stroke-width="0.3" stroke-linejoin="round">a</text>
<text transform="translate(937.33 49.4) scale(1.02 1)" font-size="55.4" stroke="#000" stroke-width="0.3" stroke-linejoin="round">b</text>
<text transform="translate(1438.51 49.4) scale(1 1)" font-size="55.4" stroke="#000" stroke-width="0.3" stroke-linejoin="round">c</text>
<text transform="translate(31.12 110.7) scale(0.82 1)" font-size="38" stroke="#000" stroke-width="0.3" stroke-linejoin="round">Tofino</text>
<rect x="936.5" y="77.6" width="113.5" height="37.4" fill="#fff"/>
<text transform="translate(937.43 110.7) scale(0.81 1)" font-size="38" stroke="#000" stroke-width="0.3" stroke-linejoin="round">Ucluelet</text>
<rect x="1437.5" y="78.6" width="154.5" height="36.4" fill="#fff"/>
<text transform="translate(1437.89 110.7) scale(0.78 1)" font-size="38" stroke="#000" stroke-width="0.3" stroke-linejoin="round">Port Alberni</text>
<text transform="translate(618.42 123.9) scale(0.82 1)" font-size="30.6" stroke="#000" stroke-width="0.3" stroke-linejoin="round">1</text>
<text transform="translate(560.54 187.6) scale(0.82 1)" font-size="30.6" stroke="#000" stroke-width="0.3" stroke-linejoin="round">2</text>
<text transform="translate(608.1 251.2) scale(0.82 1)" font-size="30.6" stroke="#000" stroke-width="0.3" stroke-linejoin="round">3</text>
<text transform="translate(373.42 379.4) scale(0.82 1)" font-size="30.6" stroke="#000" stroke-width="0.3" stroke-linejoin="round">4</text>
<text transform="translate(457.09 442.6) scale(0.82 1)" font-size="30.6" stroke="#000" stroke-width="0.3" stroke-linejoin="round">5</text>
<text transform="translate(537.65 506.6) scale(0.82 1)" font-size="30.6" stroke="#000" stroke-width="0.3" stroke-linejoin="round">6</text>
<text transform="translate(271.89 570.8) scale(0.82 1)" font-size="30.6" stroke="#000" stroke-width="0.3" stroke-linejoin="round">7</text>
<text transform="translate(1052.97 123.6) scale(0.82 1)" font-size="30.6" stroke="#000" stroke-width="0.3" stroke-linejoin="round">8</text>
<text transform="translate(1047.34 187.4) scale(0.82 1)" font-size="30.6" stroke="#000" stroke-width="0.3" stroke-linejoin="round">9</text>
<text transform="translate(1090.53 315.4) scale(0.82 1)" font-size="30.6" stroke="#000" stroke-width="0.3" stroke-linejoin="round">10</text>
<text transform="translate(1174.36 443.3) scale(0.82 1)" font-size="30.6" stroke="#000" stroke-width="0.3" stroke-linejoin="round">11</text>
<text transform="translate(1071.9 506.8) scale(0.82 1)" font-size="30.6" stroke="#000" stroke-width="0.3" stroke-linejoin="round">13</text>
<text transform="translate(1653.38 126.5) scale(0.82 1)" font-size="30.6" stroke="#000" stroke-width="0.3" stroke-linejoin="round">14</text>
<text transform="translate(1788.15 190.5) scale(0.82 1)" font-size="30.6" stroke="#000" stroke-width="0.3" stroke-linejoin="round">15</text>
<text transform="translate(1794 254.5) scale(0.82 1)" font-size="30.6" stroke="#000" stroke-width="0.3" stroke-linejoin="round">17</text>
<text transform="translate(1793.75 318) scale(0.82 1)" font-size="30.6" stroke="#000" stroke-width="0.3" stroke-linejoin="round">18</text>
<text transform="translate(1621.14 445.5) scale(0.82 1)" font-size="30.6" stroke="#000" stroke-width="0.3" stroke-linejoin="round">20</text>
<text transform="translate(1603.15 509.5) scale(0.82 1)" font-size="30.6" stroke="#000" stroke-width="0.3" stroke-linejoin="round">21</text>
<text transform="translate(1618.87 573.7) scale(0.82 1)" font-size="30.6" stroke="#000" stroke-width="0.3" stroke-linejoin="round">22</text>
<text transform="translate(1660.07 637.6) scale(0.82 1)" font-size="30.6" stroke="#000" stroke-width="0.3" stroke-linejoin="round">23</text>
<rect x="44" y="286.8" width="273" height="28.5" fill="#fff"/>
<text transform="translate(46.55 312.3) scale(0.83 1)" font-size="29.6" font-weight="bold" stroke="#000" stroke-width="0.45" stroke-linejoin="round">TF2: 5380BCE–1440CE</text>
<text transform="translate(943.29 247.4) scale(0.82 1)" font-size="29.6" font-weight="bold" stroke="#000" stroke-width="0.45" stroke-linejoin="round">UC3</text>
<rect x="1258" y="222.1" width="170" height="27.9" fill="#fff"/>
<text transform="translate(1260.9 247.6) scale(0.83 1)" font-size="29.6" font-weight="bold" stroke="#000" stroke-width="0.45" stroke-linejoin="round">1390–1730 CE</text>
<rect x="1090" y="350" width="234" height="28" fill="#fff"/>
<text transform="translate(1092.27 375.5) scale(0.83 1)" font-size="29.6" font-weight="bold" stroke="#000" stroke-width="0.45" stroke-linejoin="round">UC4: 1330–1430 CE</text>
<rect x="1778" y="352.1" width="228" height="28.5" fill="#fff"/>
<text transform="translate(1780.71 377.6) scale(0.83 1)" font-size="29.6" font-weight="bold" stroke="#000" stroke-width="0.45" stroke-linejoin="round">PA3: 1520–1610 CE</text>
<text transform="translate(-0.5 647.9) scale(0.78 1)" font-size="31.6" stroke="#000" stroke-width="0.3" stroke-linejoin="round">6000</text>
<text transform="translate(173.58 647.9) scale(0.78 1)" font-size="31.6" stroke="#000" stroke-width="0.3" stroke-linejoin="round">(cal yr BCE)</text>
<text transform="translate(425.47 647.9) scale(0.78 1)" font-size="31.6" stroke="#000" stroke-width="0.3" stroke-linejoin="round">5200</text>
<text transform="translate(608.94 647.9) scale(0.78 1)" font-size="31.6" stroke="#000" stroke-width="0.3" stroke-linejoin="round">1400</text>
<text transform="translate(684.06 647.9) scale(0.78 1)" font-size="31.6" stroke="#000" stroke-width="0.3" stroke-linejoin="round">(cal yr CE)</text>
<text transform="translate(821.54 647.9) scale(0.78 1)" font-size="31.6" stroke="#000" stroke-width="0.3" stroke-linejoin="round">1800</text>
<text transform="translate(906.44 581) scale(0.78 1)" font-size="31.6" stroke="#000" stroke-width="0.3" stroke-linejoin="round">1200</text>
<text transform="translate(1088.86 581) scale(0.78 1)" font-size="31.6" stroke="#000" stroke-width="0.3" stroke-linejoin="round">(cal yr CE)</text>
<text transform="translate(1331.6 581) scale(0.78 1)" font-size="31.6" stroke="#000" stroke-width="0.3" stroke-linejoin="round">2000</text>
<text transform="translate(1407.84 710.4) scale(0.78 1)" font-size="31.6" stroke="#000" stroke-width="0.3" stroke-linejoin="round">1000</text>
<text transform="translate(1643.01 710.4) scale(0.78 1)" font-size="31.6" stroke="#000" stroke-width="0.3" stroke-linejoin="round">(cal yr CE)</text>
<text transform="translate(1939.1 710.4) scale(0.78 1)" font-size="31.6" stroke="#000" stroke-width="0.3" stroke-linejoin="round">2000</text>
</g>
<g id="axes">
<path d="M26.6 65.2H529" stroke="#000" stroke-width="2" fill="none"/>
<path d="M27.6 65.2V75.8M38.25 65.2V70.5M48.9 65.2V70.5M59.55 65.2V70.5M70.2 65.2V70.5M80.85 65.2V75.8M91.5 65.2V70.5M102.15 65.2V70.5M112.8 65.2V70.5M123.45 65.2V70.5M134.1 65.2V75.8M144.75 65.2V70.5M155.4 65.2V70.5M166.05 65.2V70.5M176.7 65.2V70.5M187.35 65.2V75.8M198 65.2V70.5M208.65 65.2V70.5M219.3 65.2V70.5M229.95 65.2V70.5M240.6 65.2V75.8M251.25 65.2V70.5M261.9 65.2V70.5M272.55 65.2V70.5M283.2 65.2V70.5M293.85 65.2V75.8M304.5 65.2V70.5M315.15 65.2V70.5M325.8 65.2V70.5M336.45 65.2V70.5M347.1 65.2V75.8M357.75 65.2V70.5M368.4 65.2V70.5M379.05 65.2V70.5M389.7 65.2V70.5M400.35 65.2V75.8M411 65.2V70.5M421.65 65.2V70.5M432.3 65.2V70.5M442.95 65.2V70.5M453.6 65.2V75.8M464.25 65.2V70.5M474.9 65.2V70.5M485.55 65.2V70.5M496.2 65.2V70.5M506.85 65.2V75.8M517.5 65.2V70.5M528.15 65.2V70.5" stroke="#000" stroke-width="2" fill="none"/>
<path d="M582.05 65.2H861" stroke="#000" stroke-width="2" fill="none"/>
<path d="M583.05 65.2V75.8M593.7 65.2V70.5M604.35 65.2V70.5M615 65.2V70.5M625.65 65.2V70.5M636.3 65.2V75.8M646.95 65.2V70.5M657.6 65.2V70.5M668.25 65.2V70.5M678.9 65.2V70.5M689.55 65.2V75.8M700.2 65.2V70.5M710.85 65.2V70.5M721.5 65.2V70.5M732.15 65.2V70.5M742.8 65.2V75.8M753.45 65.2V70.5M764.1 65.2V70.5M774.75 65.2V70.5M785.4 65.2V70.5M796.05 65.2V75.8M806.7 65.2V70.5M817.35 65.2V70.5M828 65.2V70.5M838.65 65.2V70.5M849.3 65.2V75.8M859.95 65.2V70.5" stroke="#000" stroke-width="2" fill="none"/>
<path d="M26.6 614.7H529" stroke="#000" stroke-width="2" fill="none"/>
<path d="M27.6 614.7V604.1M38.25 614.7V609.4M48.9 614.7V609.4M59.55 614.7V609.4M70.2 614.7V609.4M80.85 614.7V604.1M91.5 614.7V609.4M102.15 614.7V609.4M112.8 614.7V609.4M123.45 614.7V609.4M134.1 614.7V604.1M144.75 614.7V609.4M155.4 614.7V609.4M166.05 614.7V609.4M176.7 614.7V609.4M187.35 614.7V604.1M198 614.7V609.4M208.65 614.7V609.4M219.3 614.7V609.4M229.95 614.7V609.4M240.6 614.7V604.1M251.25 614.7V609.4M261.9 614.7V609.4M272.55 614.7V609.4M283.2 614.7V609.4M293.85 614.7V604.1M304.5 614.7V609.4M315.15 614.7V609.4M325.8 614.7V609.4M336.45 614.7V609.4M347.1 614.7V604.1M357.75 614.7V609.4M368.4 614.7V609.4M379.05 614.7V609.4M389.7 614.7V609.4M400.35 614.7V604.1M411 614.7V609.4M421.65 614.7V609.4M432.3 614.7V609.4M442.95 614.7V609.4M453.6 614.7V604.1M464.25 614.7V609.4M474.9 614.7V609.4M485.55 614.7V609.4M496.2 614.7V609.4M506.85 614.7V604.1M517.5 614.7V609.4M528.15 614.7V609.4" stroke="#000" stroke-width="2" fill="none"/>
<path d="M582.05 614.7H861" stroke="#000" stroke-width="2" fill="none"/>
<path d="M583.05 614.7V604.1M593.7 614.7V609.4M604.35 614.7V609.4M615 614.7V609.4M625.65 614.7V609.4M636.3 614.7V604.1M646.95 614.7V609.4M657.6 614.7V609.4M668.25 614.7V609.4M678.9 614.7V609.4M689.55 614.7V604.1M700.2 614.7V609.4M710.85 614.7V609.4M721.5 614.7V609.4M732.15 614.7V609.4M742.8 614.7V604.1M753.45 614.7V609.4M764.1 614.7V609.4M774.75 614.7V609.4M785.4 614.7V609.4M796.05 614.7V604.1M806.7 614.7V609.4M817.35 614.7V609.4M828 614.7V609.4M838.65 614.7V609.4M849.3 614.7V604.1M859.95 614.7V609.4" stroke="#000" stroke-width="2" fill="none"/>
<path d="M533.3 65.2H547M565 65.2H578" stroke="#000" stroke-width="2" stroke-dasharray="4.6 3.8" fill="none"/>
<path d="M550.4 56C555 58.8 554.8 62.8 551.4 65.5S548.8 71.4 552.5 74.4" stroke="#000" stroke-width="2" fill="none" stroke-linecap="round"/>
<path d="M557.9 56C562.5 58.8 562.3 62.8 558.9 65.5S556.3 71.4 560 74.4" stroke="#000" stroke-width="2" fill="none" stroke-linecap="round"/>
<path d="M533.3 614.7H547M565 614.7H578" stroke="#000" stroke-width="2" stroke-dasharray="4.6 3.8" fill="none"/>
<path d="M550.4 605.5C555 608.3 554.8 612.3 551.4 615S548.8 620.9 552.5 623.9" stroke="#000" stroke-width="2" fill="none" stroke-linecap="round"/>
<path d="M557.9 605.5C562.5 608.3 562.3 612.3 558.9 615S556.3 620.9 560 623.9" stroke="#000" stroke-width="2" fill="none" stroke-linecap="round"/>
<path d="M933.5 65.2H1361.5" stroke="#000" stroke-width="2" fill="none"/>
<path d="M934.5 65.2V75.8M943.02 65.2V70.5M951.54 65.2V70.5M960.06 65.2V70.5M968.58 65.2V70.5M977.1 65.2V75.8M985.62 65.2V70.5M994.14 65.2V70.5M1002.66 65.2V70.5M1011.18 65.2V70.5M1019.7 65.2V75.8M1028.22 65.2V70.5M1036.74 65.2V70.5M1045.26 65.2V70.5M1053.78 65.2V70.5M1062.3 65.2V75.8M1070.82 65.2V70.5M1079.34 65.2V70.5M1087.86 65.2V70.5M1096.38 65.2V70.5M1104.9 65.2V75.8M1113.42 65.2V70.5M1121.94 65.2V70.5M1130.46 65.2V70.5M1138.98 65.2V70.5M1147.5 65.2V75.8M1156.02 65.2V70.5M1164.54 65.2V70.5M1173.06 65.2V70.5M1181.58 65.2V70.5M1190.1 65.2V75.8M1198.62 65.2V70.5M1207.14 65.2V70.5M1215.66 65.2V70.5M1224.18 65.2V70.5M1232.7 65.2V75.8M1241.22 65.2V70.5M1249.74 65.2V70.5M1258.26 65.2V70.5M1266.78 65.2V70.5M1275.3 65.2V75.8M1283.82 65.2V70.5M1292.34 65.2V70.5M1300.86 65.2V70.5M1309.38 65.2V70.5M1317.9 65.2V75.8M1326.42 65.2V70.5M1334.94 65.2V70.5M1343.46 65.2V70.5M1351.98 65.2V70.5M1360.5 65.2V75.8" stroke="#000" stroke-width="2" fill="none"/>
<path d="M933.5 549.5H1361.5" stroke="#000" stroke-width="2" fill="none"/>
<path d="M934.5 549.5V538.9M945.15 549.5V544.2M955.8 549.5V544.2M966.45 549.5V544.2M977.1 549.5V544.2M987.75 549.5V538.9M998.4 549.5V544.2M1009.05 549.5V544.2M1019.7 549.5V544.2M1030.35 549.5V544.2M1041 549.5V538.9M1051.65 549.5V544.2M1062.3 549.5V544.2M1072.95 549.5V544.2M1083.6 549.5V544.2M1094.25 549.5V538.9M1104.9 549.5V544.2M1115.55 549.5V544.2M1126.2 549.5V544.2M1136.85 549.5V544.2M1147.5 549.5V538.9M1158.15 549.5V544.2M1168.8 549.5V544.2M1179.45 549.5V544.2M1190.1 549.5V544.2M1200.75 549.5V538.9M1211.4 549.5V544.2M1222.05 549.5V544.2M1232.7 549.5V544.2M1243.35 549.5V544.2M1254 549.5V538.9M1264.65 549.5V544.2M1275.3 549.5V544.2M1285.95 549.5V544.2M1296.6 549.5V544.2M1307.25 549.5V538.9M1317.9 549.5V544.2M1328.55 549.5V544.2M1339.2 549.5V544.2M1349.85 549.5V544.2M1360.5 549.5V538.9" stroke="#000" stroke-width="2" fill="none"/>
<path d="M1434.3 65.2H1968.8" stroke="#000" stroke-width="2" fill="none"/>
<path d="M1435.3 65.2V75.8M1445.95 65.2V70.5M1456.6 65.2V70.5M1467.25 65.2V70.5M1477.9 65.2V70.5M1488.55 65.2V75.8M1499.2 65.2V70.5M1509.85 65.2V70.5M1520.5 65.2V70.5M1531.15 65.2V70.5M1541.8 65.2V75.8M1552.45 65.2V70.5M1563.1 65.2V70.5M1573.75 65.2V70.5M1584.4 65.2V70.5M1595.05 65.2V75.8M1605.7 65.2V70.5M1616.35 65.2V70.5M1627 65.2V70.5M1637.65 65.2V70.5M1648.3 65.2V75.8M1658.95 65.2V70.5M1669.6 65.2V70.5M1680.25 65.2V70.5M1690.9 65.2V70.5M1701.55 65.2V75.8M1712.2 65.2V70.5M1722.85 65.2V70.5M1733.5 65.2V70.5M1744.15 65.2V70.5M1754.8 65.2V75.8M1765.45 65.2V70.5M1776.1 65.2V70.5M1786.75 65.2V70.5M1797.4 65.2V70.5M1808.05 65.2V75.8M1818.7 65.2V70.5M1829.35 65.2V70.5M1840 65.2V70.5M1850.65 65.2V70.5M1861.3 65.2V75.8M1871.95 65.2V70.5M1882.6 65.2V70.5M1893.25 65.2V70.5M1903.9 65.2V70.5M1914.55 65.2V75.8M1925.2 65.2V70.5M1935.85 65.2V70.5M1946.5 65.2V70.5M1957.15 65.2V70.5M1967.8 65.2V75.8" stroke="#000" stroke-width="2" fill="none"/>
<path d="M1434.3 680.5H1968.8" stroke="#000" stroke-width="2" fill="none"/>
<path d="M1435.3 680.5V669.9M1445.95 680.5V675.2M1456.6 680.5V675.2M1467.25 680.5V675.2M1477.9 680.5V675.2M1488.55 680.5V669.9M1499.2 680.5V675.2M1509.85 680.5V675.2M1520.5 680.5V675.2M1531.15 680.5V675.2M1541.8 680.5V669.9M1552.45 680.5V675.2M1563.1 680.5V675.2M1573.75 680.5V675.2M1584.4 680.5V675.2M1595.05 680.5V669.9M1605.7 680.5V675.2M1616.35 680.5V675.2M1627 680.5V675.2M1637.65 680.5V675.2M1648.3 680.5V669.9M1658.95 680.5V675.2M1669.6 680.5V675.2M1680.25 680.5V675.2M1690.9 680.5V675.2M1701.55 680.5V669.9M1712.2 680.5V675.2M1722.85 680.5V675.2M1733.5 680.5V675.2M1744.15 680.5V675.2M1754.8 680.5V669.9M1765.45 680.5V675.2M1776.1 680.5V675.2M1786.75 680.5V675.2M1797.4 680.5V675.2M1808.05 680.5V669.9M1818.7 680.5V675.2M1829.35 680.5V675.2M1840 680.5V675.2M1850.65 680.5V675.2M1861.3 680.5V669.9M1871.95 680.5V675.2M1882.6 680.5V675.2M1893.25 680.5V675.2M1903.9 680.5V675.2M1914.55 680.5V669.9M1925.2 680.5V675.2M1935.85 680.5V675.2M1946.5 680.5V675.2M1957.15 680.5V675.2M1967.8 680.5V669.9" stroke="#000" stroke-width="2" fill="none"/>
</g>
</svg>
</body></html>
